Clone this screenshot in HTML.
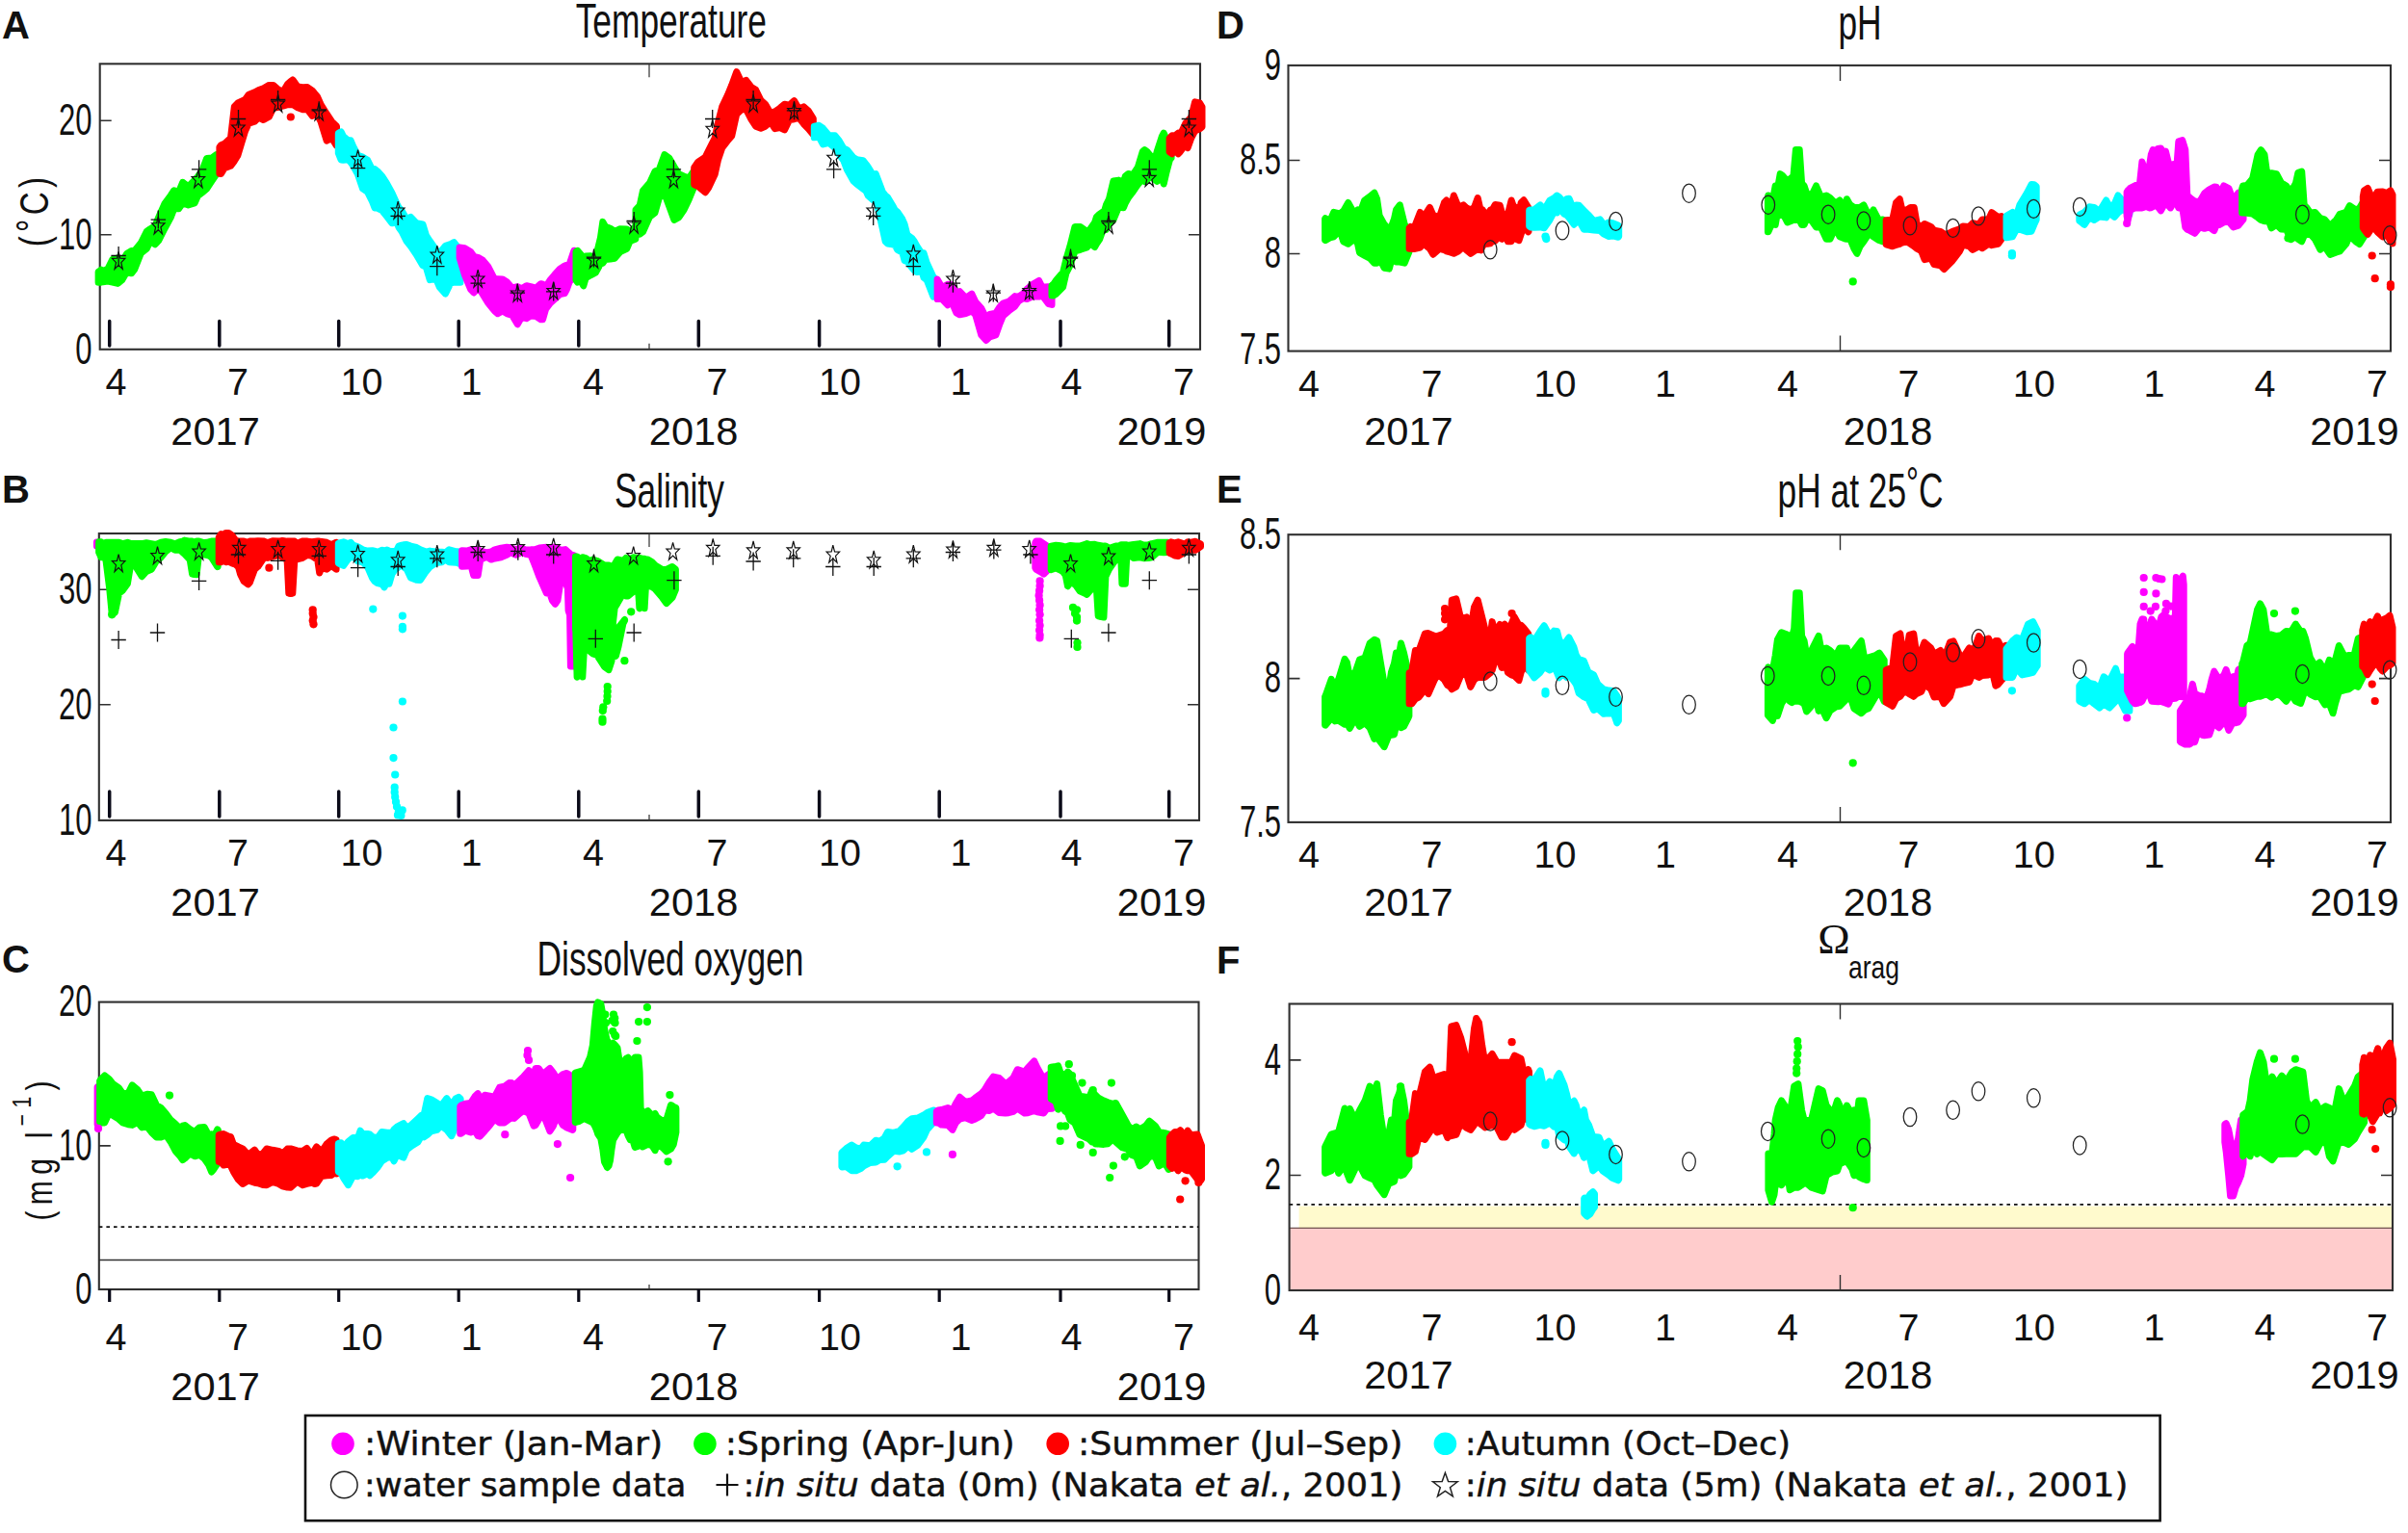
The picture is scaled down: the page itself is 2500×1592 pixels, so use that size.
<!DOCTYPE html>
<html lang="en"><head><meta charset="utf-8"><title>Seasonal time series of temperature, salinity, dissolved oxygen, pH and aragonite saturation</title>
<style>html,body{margin:0;padding:0;background:#fff}svg{display:block}text{font-family:"Liberation Sans",sans-serif;fill:#111111}.lg text{font-family:"DejaVu Sans","Liberation Sans",sans-serif;stroke:#111;stroke-width:.45px}.se{font-family:"Liberation Serif",serif}</style></head><body>
<svg width="2500" height="1592" viewBox="0 0 2500 1592">
<rect width="2500" height="1592" fill="#fff"/>
<g id="panelA">
<rect x="103.7" y="66.3" width="1142.3" height="296.5" fill="none" stroke="#303030" stroke-width="2.1"/>
<path d="M103.7 125.2h12M1246 125.2h-12M103.7 243.8h12M1246 243.8h-12" stroke="#303030" stroke-width="1.6" fill="none"/>
<path d="M113.7 333.4V358.9M227.8 333.4V358.9M351.7 333.4V358.9M476.2 333.4V358.9M600.8 333.4V358.9M725.3 333.4V358.9M850.6 333.4V358.9M975.2 333.4V358.9M1101 333.4V358.9M1213.7 333.4V358.9" stroke="#0a0a18" stroke-width="3.5" stroke-linecap="round" fill="none"/>
<path d="M674 66.3v14M674 362.8v-6" stroke="#303030" stroke-width="1.2" fill="none"/>
<path d="M102.1 282.4L105 280.2L107 281.6L111.9 279.2L116.8 269.4L122.4 267.8L126.6 272L131.6 263.5L136.5 260.5L139.8 260.3L146.3 252.3L152.3 240.4L156.1 237.6L161.1 234.5L164.8 225.4L170.9 211.6L177.2 203L180.7 197.7L185.6 199.4L189.7 189.3L195.5 193.7L202.1 186.8L205.3 183.6L210.2 176.5L214.6 164.4L220 164L224.6 160.6L225 160.6L225 180.8L224.6 181L220 187.9L214.6 196L210.2 199.7L205.3 203.5L202.1 210.9L195.5 212.9L189.7 210.9L185.6 216.8L180.7 216.7L177.2 225.9L170.9 237.5L164.8 249.6L161.1 253.8L156.1 250.4L152.3 258.3L146.3 262.9L139.8 279.5L136.5 283.8L131.6 282.4L126.6 290.9L122.4 294.4L116.8 293L111.9 292.1L107 292.7L105 293.2L102.1 293.2Z" fill="#00ff00" stroke="#00ff00" stroke-width="7" stroke-linejoin="round"/>
<path d="M227.9 152.8L229.5 150.7L233 149.2L239.5 143.2L243.3 110.8L247 107L254.5 103.3L258.3 98.2L264.4 95.8L268.5 93.6L273.5 91.8L279.4 88.4L283.7 88.4L289.4 93.3L293.8 95.3L298.9 86.9L301.8 84.6L303.9 82.9L309 90L314.3 90.8L319.1 90.5L324.2 94.1L326.7 97.1L329.3 100L333 108.3L339.2 118.3L344.5 126.3L349.2 130.7L349.5 131.5L349.5 151.3L349.2 151.1L344.5 143.5L339.2 146.1L333 126.2L329.3 118.7L326.7 118.7L324.2 120.4L319.1 113.6L314.3 113.7L309 111.7L303.9 108.5L301.8 108.8L298.9 108.7L293.8 110L289.4 111.3L283.7 112.2L279.4 121.2L273.5 124.5L268.5 122.1L264.4 126.2L258.3 128.1L254.5 136.2L247 161.1L243.3 167.3L239.5 172.3L233 174.6L229.5 180.5L227.9 180.2Z" fill="#ff0000" stroke="#ff0000" stroke-width="7" stroke-linejoin="round"/>
<path d="M351.3 138.4L354.1 136.9L356.3 141.4L361.4 145.9L364.1 145.7L366.5 151.6L371.5 161.4L376.6 163.1L381.6 166.2L386.7 176.6L389 175.6L391.8 177.7L396.8 183.1L401.5 190.5L407 200.5L412 211.5L413.9 215.4L417.1 218.7L422.2 227.7L426.4 225.4L432.3 231.7L438.9 232.9L442.4 244.3L446.3 250.3L452.6 259.2L456.3 262.8L462.5 255.3L467.8 253.5L471.3 251.6L477.9 260.1L477.9 293.2L471.3 293.2L467.8 294.1L462.5 305.1L456.3 298.1L452.6 289.3L446.3 290.7L442.4 277.4L438.9 275.7L432.3 264.4L426.4 255.8L422.2 250.6L417.1 240.5L413.9 235.9L412 230.8L407 231.8L401.5 224.6L396.8 218.7L391.8 216.1L389 215.9L386.7 209.7L381.6 199.5L376.6 196L371.5 181L366.5 172.1L364.1 168.6L361.4 165.8L356.3 166.3L354.1 166.1L351.3 158.9Z" fill="#00ffff" stroke="#00ffff" stroke-width="7" stroke-linejoin="round"/>
<path d="M477.1 256.9L482.5 257.8L488.7 261.5L492 266.3L497 267.6L501.2 270.3L506.9 277.1L513.6 290.2L516.8 289.7L521.8 289.9L526.1 292.7L531.7 299L537.3 297.7L541.6 299.8L546.6 296.7L551 297.7L556.5 299.2L561.5 294.7L563.5 295.2L566.5 298.2L571.4 290.5L575.9 285.2L581.4 279.1L586.3 276L588.4 275.2L591.3 274.1L595.9 260.3L596.2 260.3L596.2 287.8L595.9 288.2L591.3 292.4L588.4 300.6L586.3 304.5L581.4 305.6L575.9 310.6L571.4 314.7L566.5 321.2L563.5 331.8L561.5 331.8L556.5 328.5L551 328.1L546.6 330.7L541.6 329.2L537.3 336.8L531.7 327.5L526.1 325.6L521.8 323L516.8 325.8L513.6 323.1L506.9 314.8L501.2 305.6L497 298.5L492 304L488.7 300.6L482.5 285.7L477.1 267.8Z" fill="#ff00ff" stroke="#ff00ff" stroke-width="7" stroke-linejoin="round"/>
<path d="M598 261.4L599.6 260.3L603 264.3L605.8 267.8L608.1 266.1L613.2 265.8L618.3 267.8L623.4 247.2L625.8 230.4L628.5 235.2L633.6 237.2L638.2 240.4L643.8 237.7L650.7 237.9L654 240.9L659.9 235.4L660 217.9L664.2 213.4L667.5 198L674.4 190.1L679.9 178.1L684.5 175.7L689.9 160.6L694.7 164L699.9 173.1L704.9 180.8L709.8 183L715.1 185.1L719.8 178.1L720.2 177.7L720.2 195.6L719.8 196L715.1 207.5L709.8 218.4L704.9 225.6L699.9 228.4L694.7 214L689.9 201L684.5 205.1L679.9 220.9L674.4 225.3L667.5 240.8L664.2 243.3L660 243.3L659.9 248.3L654 250.6L650.7 258.3L643.8 261.7L638.2 268.2L633.6 269L628.5 269.4L625.8 273.2L623.4 274.1L618.3 283.2L613.2 285.8L608.1 288.8L605.8 296.9L603 291.6L599.6 293.2L598 291Z" fill="#00ff00" stroke="#00ff00" stroke-width="7" stroke-linejoin="round"/>
<path d="M720.7 173.9L724.8 168.1L732.3 163.1L735.5 156.5L742.2 143.2L745.4 127.7L749.7 110.8L755.3 99L759.7 88.4L764.7 74.6L770.1 85.9L774.6 83.4L780 90.4L784.6 93.3L789.9 104L794.6 108.3L799.8 117.3L804.5 115.8L809.7 112.3L814.5 108.3L819.6 109.1L824.5 104.6L829.5 113.2L834.4 110.8L839.3 115.2L844.3 123.1L844.3 139.8L839.3 133.7L834.4 128.7L829.5 122.3L824.5 123.7L819.6 124.5L814.5 134.9L809.7 132.6L804.5 133.7L799.8 126.4L794.6 131.2L789.9 133.2L784.6 131.2L780 124.1L774.6 113.7L770.1 113.5L764.7 118.7L759.7 141.2L755.3 146.3L749.7 153.6L745.4 166.4L742.2 181L735.5 195.3L732.3 199.7L724.8 193.5L720.7 191.8Z" fill="#ff0000" stroke="#ff0000" stroke-width="7" stroke-linejoin="round"/>
<path d="M845.3 131.2L850.3 130.3L854.4 133.2L860.5 140.4L866.8 140.7L870.7 145.4L875.8 154L879.3 155.6L885.9 163.6L889.3 165.6L896.1 166.7L899.2 170.6L901.2 173.3L906.3 181.5L909.2 180.6L911.4 186.3L916.4 199.4L919.2 203L921.5 204.7L926.6 213.2L929.1 217.9L931.7 219.9L936.8 227.5L939.1 232.9L941.9 243.9L947 247.6L949.1 250.3L952 255.7L957.1 263.5L959 262.8L962.2 273.1L969 287.7L972.4 290.8L972.4 307.3L969 308.1L962.2 290.8L959 288.2L957.1 281.5L952 282.6L949.1 280.7L947 278.3L941.9 271.6L939.1 270.7L936.8 262.2L931.7 259.5L929.1 254.5L926.6 253.9L921.5 253L919.2 250.8L916.4 237.9L911.4 215.7L909.2 208.4L906.3 207.7L901.2 203.1L899.2 198.5L896.1 196.2L889.3 191L885.9 187.9L879.3 176L875.8 166.8L870.7 159.8L866.8 153.6L860.5 148.3L854.4 149.9L850.3 142.3L845.3 142.8Z" fill="#00ffff" stroke="#00ffff" stroke-width="7" stroke-linejoin="round"/>
<path d="M973.1 290L978 298.5L983.9 295.2L988 295.7L992.9 304.6L996.4 302.7L1002.8 309.4L1008.9 305.1L1012.7 313.3L1018.8 320.1L1023.8 330.1L1027.6 326.5L1033.8 325.1L1037.5 319.3L1041.3 315.1L1047.4 313.1L1053.7 307.6L1057.3 308.1L1062.3 304.8L1066.2 300.2L1072.2 295.2L1078.6 291.4L1082.1 298.3L1088.6 297.7L1092 302.3L1092 316.4L1088.6 315.6L1082.1 307L1078.6 308.1L1072.2 307.9L1066.2 310.6L1062.3 309.7L1057.3 312.9L1053.7 318.1L1047.4 322.8L1041.3 328.1L1037.5 337.5L1033.8 348L1027.6 350L1023.8 353.5L1018.8 348L1012.7 326.9L1008.9 323.1L1002.8 325.5L996.4 326.8L992.9 324.9L988 313.4L983.9 316.8L978 310.5L973.1 310.6Z" fill="#ff00ff" stroke="#ff00ff" stroke-width="7" stroke-linejoin="round"/>
<path d="M1092 296.3L1093.6 295.2L1096.9 290.5L1103.6 282.7L1106.8 269.5L1111 255.3L1116 235.4L1121.7 235.5L1128.5 240.4L1131.7 238.1L1136.6 231L1138.4 225.4L1141.6 222.4L1146.6 218.9L1148.4 212.9L1151.5 206.6L1155.9 188L1161.5 187.1L1166.4 189.2L1168.3 183L1171.4 180.5L1176.4 181.6L1178.3 178.1L1181.3 173.7L1186.3 157.4L1188.3 155.6L1191.3 157.9L1196.2 163.8L1198.3 168.1L1201.2 157.4L1206.2 142L1208.2 138.2L1211.1 144.4L1214.4 143.2L1216.1 145.4L1216.1 163.9L1214.4 166.1L1211.1 178.5L1208.2 191L1206.2 184.1L1201.2 188.4L1198.3 186L1196.2 182.8L1191.3 186L1188.3 188.5L1186.3 185.6L1181.3 191.8L1178.3 196L1176.4 198.9L1171.4 205.5L1168.3 210.9L1166.4 215.7L1161.5 215L1155.9 228.4L1151.5 232.8L1148.4 238.3L1146.6 234.6L1141.6 248.6L1138.4 253.3L1136.6 256.5L1131.7 252.6L1128.5 257L1121.7 259.3L1116 260.8L1111 275.7L1106.8 283.9L1103.6 298.1L1096.9 304.9L1093.6 306.9L1092 306.9Z" fill="#00ff00" stroke="#00ff00" stroke-width="7" stroke-linejoin="round"/>
<path d="M1214.1 143.6L1216.9 140.7L1219.7 141L1223.2 138.2L1225.4 139.8L1231 127.7L1233.1 125.7L1236.7 121.7L1240.6 105.8L1245.6 107L1248 111L1248 131.7L1245.6 133.7L1240.6 136.2L1236.7 143.5L1233.1 153.6L1231 150L1225.4 157.5L1223.2 159.8L1219.7 154L1216.9 159.8L1214.1 157.7Z" fill="#ff0000" stroke="#ff0000" stroke-width="7" stroke-linejoin="round"/>
<g fill="#ff0000"><circle cx="301.8" cy="121.5" r="4.1"/></g>
<path fill="none" stroke="#111" stroke-width="1.3" d="M115.4 265.5h15.4M123.1 256v19M156.6 228.1h15.4M164.3 218.6v19M198.9 175.8h15.4M206.6 166.3v19M239.8 123.5h15.4M247.5 114v19M280.9 103.5h15.4M288.6 94v19M323.5 114.8h15.4M331.2 105.3v19M363.9 174.6h15.4M371.6 165.1v19M405.5 224.4h15.4M413.2 214.9v19M446.1 276.7h15.4M453.8 267.2v19M488.5 294.2h15.4M496.2 284.7v19M529.6 304.1h15.4M537.3 294.6v19M567 302.9h15.4M574.7 293.4v19M608.8 268h15.4M616.5 258.5v19M650.5 229.4h15.4M658.2 219.9v19M691.7 175.8h15.4M699.4 166.3v19M732 123.5h15.4M739.7 114v19M774.4 103.5h15.4M782.1 94v19M816.8 114.8h15.4M824.5 105.3v19M857.9 175.8h15.4M865.6 166.3v19M899 224.4h15.4M906.7 214.9v19M940.6 276.7h15.4M948.3 267.2v19M981.7 294.2h15.4M989.4 284.7v19M1023.6 304.1h15.4M1031.3 294.6v19M1061 301.6h15.4M1068.7 292.1v19M1103.8 268h15.4M1111.5 258.5v19M1143.2 229.4h15.4M1150.9 219.9v19M1185.6 175.8h15.4M1193.3 166.3v19M1226.7 123.5h15.4M1234.4 114v19"/>
<path fill="none" stroke="#111" stroke-width="1.2" stroke-linejoin="miter" d="M123.1 261.5L124.8 268.2L129.9 268.3L125.8 272.6L127.3 279.4L123.1 275.3L119 279.4L120.5 272.6L116.4 268.3L121.5 268.2ZM164.3 224.8L165.9 231.6L171 231.7L166.9 236L168.4 242.8L164.3 238.7L160.1 242.8L161.6 236L157.5 231.7L162.6 231.6ZM205.9 176.7L207.5 183.5L212.6 183.6L208.5 187.9L210 194.7L205.9 190.6L201.7 194.7L203.2 187.9L199.1 183.6L204.2 183.5ZM247.5 123.2L249.1 129.9L254.2 130L250.2 134.3L251.7 141.1L247.5 137L243.3 141.1L244.8 134.3L240.7 130L245.8 129.9ZM288.6 98.2L290.3 105L295.4 105.1L291.3 109.4L292.8 116.2L288.6 112.1L284.4 116.2L285.9 109.4L281.9 105.1L287 105ZM331.2 107L332.9 113.7L338 113.8L333.9 118.1L335.4 124.9L331.2 120.8L327 124.9L328.6 118.1L324.5 113.8L329.6 113.7ZM371.6 155.6L373.2 162.3L378.3 162.4L374.2 166.7L375.8 173.5L371.6 169.4L367.4 173.5L368.9 166.7L364.8 162.4L369.9 162.3ZM413.2 209.1L414.8 215.9L420 216L415.9 220.3L417.4 227.1L413.2 223L409 227.1L410.5 220.3L406.4 216L411.6 215.9ZM453.8 255.2L455.5 262L460.6 262.1L456.5 266.4L458 273.2L453.8 269.1L449.6 273.2L451.2 266.4L447.1 262.1L452.2 262ZM496.2 280.2L497.8 286.9L502.9 287L498.8 291.3L500.4 298.1L496.2 294L492 298.1L493.5 291.3L489.4 287L494.5 286.9ZM537.3 295.1L538.9 301.9L544 302L540 306.3L541.5 313.1L537.3 309L533.1 313.1L534.6 306.3L530.5 302L535.7 301.9ZM574.7 292.6L576.3 299.4L581.4 299.5L577.3 303.8L578.8 310.6L574.7 306.5L570.5 310.6L572 303.8L567.9 299.5L573 299.4ZM616.5 260.2L618.2 267L623.3 267.1L619.2 271.4L620.7 278.2L616.5 274.1L612.4 278.2L613.9 271.4L609.8 267.1L614.9 267ZM658.2 224.1L659.8 230.9L664.9 231L660.8 235.2L662.3 242.1L658.2 237.9L654 242.1L655.5 235.2L651.4 231L656.5 230.9ZM699.4 176.7L701 183.5L706.1 183.6L702 187.9L703.5 194.7L699.4 190.6L695.2 194.7L696.7 187.9L692.6 183.6L697.7 183.5ZM739.7 124.4L741.4 131.2L746.5 131.3L742.4 135.6L743.9 142.4L739.7 138.3L735.6 142.4L737.1 135.6L733 131.3L738.1 131.2ZM782.1 98.2L783.7 105L788.9 105.1L784.8 109.4L786.3 116.2L782.1 112.1L777.9 116.2L779.4 109.4L775.4 105.1L780.5 105ZM824.5 105.7L826.1 112.5L831.2 112.6L827.1 116.9L828.6 123.7L824.5 119.6L820.3 123.7L821.8 116.9L817.7 112.6L822.8 112.5ZM865.6 154.3L867.2 161.1L872.3 161.2L868.2 165.5L869.8 172.3L865.6 168.2L861.4 172.3L862.9 165.5L858.8 161.2L863.9 161.1ZM906.7 209.1L908.3 215.9L913.5 216L909.4 220.3L910.9 227.1L906.7 223L902.5 227.1L904 220.3L899.9 216L905.1 215.9ZM948.3 254L950 260.8L955.1 260.9L951 265.1L952.5 272L948.3 267.8L944.1 272L945.7 265.1L941.6 260.9L946.7 260.8ZM989.4 280.2L991.1 286.9L996.2 287L992.1 291.3L993.6 298.1L989.4 294L985.3 298.1L986.8 291.3L982.7 287L987.8 286.9ZM1031.3 295.1L1032.9 301.9L1038 302L1034 306.3L1035.5 313.1L1031.3 309L1027.1 313.1L1028.6 306.3L1024.5 302L1029.6 301.9ZM1068.7 292.6L1070.3 299.4L1075.4 299.5L1071.3 303.8L1072.8 310.6L1068.7 306.5L1064.5 310.6L1066 303.8L1061.9 299.5L1067 299.4ZM1111.5 260.2L1113.2 267L1118.3 267.1L1114.2 271.4L1115.7 278.2L1111.5 274.1L1107.4 278.2L1108.9 271.4L1104.8 267.1L1109.9 267ZM1150.9 224.1L1152.6 230.9L1157.7 231L1153.6 235.2L1155.1 242.1L1150.9 237.9L1146.7 242.1L1148.2 235.2L1144.2 231L1149.3 230.9ZM1193.3 175.5L1194.9 182.3L1200 182.4L1195.9 186.6L1197.4 193.5L1193.3 189.4L1189.1 193.5L1190.6 186.6L1186.5 182.4L1191.6 182.3ZM1234.4 123.2L1236 129.9L1241.1 130L1237 134.3L1238.6 141.1L1234.4 137L1230.2 141.1L1231.7 134.3L1227.6 130L1232.7 129.9Z"/>
<text transform="translate(95.5,139.9) scale(0.66,1)" text-anchor="end" font-size="47">20</text>
<text transform="translate(95.5,258.5) scale(0.66,1)" text-anchor="end" font-size="47">10</text>
<text transform="translate(95.5,377.5) scale(0.66,1)" text-anchor="end" font-size="47">0</text>
<text transform="translate(49.5,218) rotate(-90) scale(0.78,1)" text-anchor="middle" font-size="42.5" letter-spacing="5.5">(<tspan dy="-3">°</tspan><tspan dy="3">C)</tspan></text>
<text x="120.4" y="410.3" text-anchor="middle" font-size="39.5">4</text>
<text x="247" y="410.3" text-anchor="middle" font-size="39.5">7</text>
<text x="375.5" y="410.3" text-anchor="middle" font-size="39.5">10</text>
<text x="489.5" y="410.3" text-anchor="middle" font-size="39.5">1</text>
<text x="616" y="410.3" text-anchor="middle" font-size="39.5">4</text>
<text x="744.5" y="410.3" text-anchor="middle" font-size="39.5">7</text>
<text x="872" y="410.3" text-anchor="middle" font-size="39.5">10</text>
<text x="997.6" y="410.3" text-anchor="middle" font-size="39.5">1</text>
<text x="1112.5" y="410.3" text-anchor="middle" font-size="39.5">4</text>
<text x="1229" y="410.3" text-anchor="middle" font-size="39.5">7</text>
<text x="177.3" y="461.8" font-size="40" textLength="92.5" lengthAdjust="spacingAndGlyphs">2017</text>
<text x="673.8" y="461.8" font-size="40" textLength="92.5" lengthAdjust="spacingAndGlyphs">2018</text>
<text x="1159.8" y="461.8" font-size="40" textLength="92.5" lengthAdjust="spacingAndGlyphs">2019</text>
<text transform="translate(696.8,39) scale(0.701,1)" text-anchor="middle" font-size="50.4">Temperature</text>
<text x="2" y="40.3" font-size="40" font-weight="bold">A</text>
</g>
<g id="panelB">
<rect x="102.8" y="554" width="1142.2" height="297.9" fill="none" stroke="#303030" stroke-width="2.1"/>
<path d="M102.8 612.2h12M1245 612.2h-12M102.8 731.8h12M1245 731.8h-12" stroke="#303030" stroke-width="1.6" fill="none"/>
<path d="M113.7 821.9V848M227.8 821.9V848M351.7 821.9V848M476.2 821.9V848M600.8 821.9V848M725.3 821.9V848M850.6 821.9V848M975.2 821.9V848M1101 821.9V848M1213.7 821.9V848" stroke="#0a0a18" stroke-width="3.5" stroke-linecap="round" fill="none"/>
<path d="M674 554v14M674 851.9v-6" stroke="#303030" stroke-width="1.2" fill="none"/>
<path d="M100.4 563.1L100.4 566.9Z" fill="#ff00ff" stroke="#ff00ff" stroke-width="7" stroke-linejoin="round"/>
<path d="M102.6 562.7L105 562.8L107.5 564.6L109.9 563.3L113.7 563.3L116.2 563.3L119.4 563.3L123.6 563.3L127.3 564.6L132.4 563.3L136.1 564.6L141.1 564.6L147.3 564.6L152 563.7L157.3 564.6L161.9 565.5L167.2 563.3L171.8 562.5L177.2 563.3L181.7 564.9L186.6 562.6L189.7 562.1L191.6 561.1L197.2 562.1L199.6 562.1L201.5 563L204.1 562.1L206.6 562.1L211.4 563.6L216.3 563L219.6 562.1L225.8 562.1L226.2 562.1L226.2 588.5L225.8 588.7L219.6 578.8L216.3 576.8L211.4 575.8L206.6 575L204.1 596.7L201.5 596.6L199.6 596.2L197.2 581.3L191.6 575.4L189.7 573.8L186.6 570.9L181.7 571.3L177.2 568.8L171.8 573.1L167.2 578.8L161.9 583.4L157.3 591.2L152 593.4L147.3 598.7L141.1 588.7L136.1 583.7L132.4 606.2L127.3 613.3L123.6 616.1L119.4 636.1L116.2 637.3L113.7 611.2L109.9 581.3L107.5 578.4L105 578.8L102.6 573.5Z" fill="#00ff00" stroke="#00ff00" stroke-width="7" stroke-linejoin="round"/>
<path d="M227.2 557.9L229.5 554.6L232.2 555.1L234.5 553.4L237.3 553.5L240.8 555.9L244.5 560.8L247.5 562.2L249.5 562.1L253.2 562.1L257.6 563.4L259.4 562.1L264.4 562.1L267.8 561.8L274.4 562.1L277.9 563.6L283 561.8L289.4 562.1L293.2 561.4L298.1 562.1L299.8 562.1L303.8 562.1L305.8 562.1L308.4 564.5L313.5 562.1L319.3 562.1L323.7 562.7L329.7 562.1L331.7 562.1L333.8 562.4L339.2 563.3L344 565.6L349.1 563.3L349.1 591.2L344 587.5L339.2 591.2L333.8 589.8L331.7 595L329.7 581.3L323.7 577.3L319.3 576.3L313.5 579.6L308.4 580.8L305.8 581.3L303.8 616.1L299.8 616.1L298.1 581.3L293.2 579L289.4 576.3L283 578.1L277.9 579.4L274.4 578.8L267.8 588.4L264.4 591.2L259.4 604.9L257.6 606.8L253.2 603.7L249.5 596.2L247.5 588.9L244.5 586.2L240.8 585L237.3 583.2L234.5 583.7L232.2 579.8L229.5 583.7L227.2 583.7Z" fill="#ff0000" stroke="#ff0000" stroke-width="7" stroke-linejoin="round"/>
<path d="M351.3 564.1L356.6 562.8L361.4 564.7L364.1 563.3L366.5 566.1L371.5 567.8L376.6 570.8L381.6 572.1L386.7 571.8L389 572.1L391.8 573.5L396.8 571.2L399 572.1L401.9 571L404 572.1L407 572.5L410.2 572.1L412 571.4L413.9 567.1L417.1 566.2L418.9 565.8L422.2 565.4L426.4 567.1L432.3 568.4L436.4 570.8L442.4 573.1L446.3 572.1L452.6 572.9L458.8 573.3L462.7 573.7L466.3 570.8L473.8 572.8L477.9 573.1L477.9 585.6L473.8 584.2L466.3 583.7L462.7 580.9L458.8 583.7L452.6 584.6L446.3 588.7L442.4 593.4L436.4 602.4L432.3 602.2L426.4 599.9L422.2 591.1L418.9 588.7L417.1 585.7L413.9 588.7L412 590.3L410.2 591.2L407 596L404 606.2L401.9 604.2L399 609.9L396.8 606.8L391.8 605.7L389 603.7L386.7 600.5L381.6 588.8L376.6 583.7L371.5 582.8L366.5 577.7L364.1 578.8L361.4 580.8L356.6 587.5L351.3 584.8Z" fill="#00ffff" stroke="#00ffff" stroke-width="7" stroke-linejoin="round"/>
<path d="M479.6 571.8L484.7 572.1L488.7 570.8L491.7 570.8L496.2 570.8L498.7 572.1L505 573.9L510 572.9L513.6 570.8L520.2 569.1L526.1 568.3L530.3 568.7L535.4 571L538.5 569.6L540.5 568.8L545.5 571L551 570.8L555.7 570.5L560 569.1L567.4 568.3L570.9 570.1L573.4 568.3L576.4 568.3L578.9 569.6L582.4 571.3L586.9 570.6L589.4 572.8L590.1 573.6L591.6 574.6L592.4 575.8L596.2 576.9L596.2 691.9L592.4 691.9L591.6 638.6L590.1 634.1L589.4 611.2L586.9 603.9L582.4 600.9L578.9 623.6L576.4 627.4L573.4 623.6L570.9 616.2L567.4 616.1L560 599.4L555.7 587.9L551 576.3L545.5 575.3L540.5 572.4L538.5 575L535.4 576.2L530.3 573.7L526.1 576.3L520.2 578.8L513.6 580L510 581.1L505 578.3L498.7 581.3L496.2 597.5L491.7 597.5L488.7 586.2L484.7 588L479.6 588.3Z" fill="#ff00ff" stroke="#ff00ff" stroke-width="7" stroke-linejoin="round"/>
<path d="M597.5 578L597.8 578L599.1 578L602.4 580.8L604.8 578.8L606.3 579L608.1 579.5L612.3 582.7L615.5 581L620 582.5L622.2 583.6L627.5 587L632 587L635 588.5L636.5 592L638.2 585.8L641 581L647 582.5L649.9 579.5L651.9 581.6L657.4 578.8L662.6 579.5L663.9 579.5L666.8 580.2L669.1 580.3L670.4 580.8L672.6 581L676.7 583.4L680.1 587L687.6 591.5L692 591.5L698 588.5L701.4 591.2L701.4 612.5L698 620.6L692 626.6L687.6 620.6L680.1 611.7L676.7 609.4L672.6 608.4L670.4 609.2L669.1 631.8L666.8 627.3L663.9 631.8L662.6 612.2L657.4 614.6L651.9 619L649.9 619.1L647 616.3L641 626.6L638.2 631.1L636.5 646L635 686.4L632 695.6L627.5 692.4L622.2 684.2L620 680.4L615.5 678.9L612.3 676.2L608.1 671.5L606.3 675.9L604.8 703.1L602.4 700.1L599.1 703.1L597.8 656L597.5 653.7Z" fill="#00ff00" stroke="#00ff00" stroke-width="7" stroke-linejoin="round"/>
<path d="M639.3 653.7L639.5 653L642 651.6L646.9 645.6L648.6 643.4L648.6 644.4L646.9 647.5L642 671.5L639.5 680.9L639.3 681.3Z" fill="#00ff00" stroke="#00ff00" stroke-width="7" stroke-linejoin="round"/>
<path d="M1074.8 563.6L1075.6 562.1L1079.9 562.1L1083.6 564.6L1087.4 567.1L1088.3 567.8L1088.3 591.7L1087.4 592.5L1083.6 596.2L1079.9 593.7L1075.6 591.2L1074.8 589.7Z" fill="#ff00ff" stroke="#ff00ff" stroke-width="7" stroke-linejoin="round"/>
<path d="M1091.2 567.1L1096.3 566.2L1101.3 566.8L1103.6 567.1L1106.3 568.3L1108.5 567.1L1111.4 566.5L1116.4 566.9L1121 567.1L1126.5 565.4L1128.5 564.6L1131.6 565.6L1136.6 565.3L1138.4 565.8L1140.2 566.3L1145.9 567.1L1147.9 567.1L1151.8 569.3L1158.4 567.1L1161.9 567.1L1163.9 565.8L1164.9 565.8L1168.3 565.8L1169.8 565.8L1172 566.3L1177 565.4L1183.3 564.6L1187.1 566.1L1192.2 565.9L1195.8 564.6L1202.3 563.3L1208.2 563.3L1212.3 563.3L1212.3 573.5L1208.2 573.8L1202.3 573.2L1195.8 578.8L1192.2 579.6L1187.1 579.7L1183.3 578.8L1177 579.5L1172 576.3L1169.8 577.5L1168.3 606.2L1164.9 606.2L1163.9 581.3L1161.9 578.4L1158.4 581.3L1151.8 590.6L1147.9 598.7L1145.9 641.1L1140.2 639.8L1138.4 611.2L1136.6 607.9L1131.6 613.6L1128.5 617.4L1126.5 616.2L1121 613.7L1116.4 607.3L1111.4 604.3L1108.5 608.7L1106.3 597.6L1103.6 593.7L1101.3 592.2L1096.3 590L1091.2 591.6Z" fill="#00ff00" stroke="#00ff00" stroke-width="7" stroke-linejoin="round"/>
<path d="M1214.1 563.6L1215.7 562.8L1219.5 563.9L1223.2 562.8L1230.3 565L1233.1 562.8L1235.7 563.5L1241.1 562.2L1243.1 563.3L1246.5 564.9L1246.5 567.7L1243.1 570L1241.1 571.2L1235.7 571.1L1233.1 571.3L1230.3 573.2L1223.2 577.5L1219.5 577L1215.7 575L1214.1 574.3Z" fill="#ff0000" stroke="#ff0000" stroke-width="7" stroke-linejoin="round"/>
<g fill="#ff0000"><circle cx="279.4" cy="589.7" r="4.1"/><circle cx="324.7" cy="633.3" r="4.1"/><circle cx="324.7" cy="637.1" r="4.1"/><circle cx="325.5" cy="640.8" r="4.1"/><circle cx="324.7" cy="644.6" r="4.1"/><circle cx="325.5" cy="648.3" r="4.1"/><circle cx="301.8" cy="615.9" r="4.1"/><circle cx="301.3" cy="612.2" r="4.1"/></g>
<g fill="#00ffff"><circle cx="387.3" cy="632.6" r="4.1"/><circle cx="417.9" cy="639.6" r="4.1"/><circle cx="417.9" cy="653.3" r="4.1"/><circle cx="417.9" cy="650.8" r="4.1"/><circle cx="417.9" cy="728.5" r="4.1"/><circle cx="408.5" cy="755.5" r="4.1"/><circle cx="408.5" cy="787.1" r="4.1"/><circle cx="410.2" cy="804.5" r="4.1"/><circle cx="409.7" cy="817.7" r="4.1"/><circle cx="409.7" cy="822.7" r="4.1"/><circle cx="410.2" cy="827.7" r="4.1"/><circle cx="411" cy="832.7" r="4.1"/><circle cx="412" cy="837.7" r="4.1"/><circle cx="413.9" cy="842.7" r="4.1"/><circle cx="415.9" cy="845.2" r="4.1"/><circle cx="417.7" cy="841.4" r="4.1"/><circle cx="416.4" cy="846.9" r="4.1"/><circle cx="413" cy="846.4" r="4.1"/></g>
<g fill="#00ff00"><circle cx="655.2" cy="635.3" r="4.1"/><circle cx="648.4" cy="686.2" r="4.1"/><circle cx="630.7" cy="713.1" r="4.1"/><circle cx="630.7" cy="718.1" r="4.1"/><circle cx="630.5" cy="723.1" r="4.1"/><circle cx="630.2" cy="728" r="4.1"/><circle cx="626.3" cy="734.3" r="4.1"/><circle cx="625.8" cy="738" r="4.1"/><circle cx="625.5" cy="746.7" r="4.1"/><circle cx="625.5" cy="749.7" r="4.1"/><circle cx="116.2" cy="638.3" r="4.1"/></g>
<g fill="#ff00ff"><circle cx="1079.6" cy="603.4" r="4.1"/><circle cx="1079.6" cy="608.4" r="4.1"/><circle cx="1079.1" cy="613.4" r="4.1"/><circle cx="1078.6" cy="618.4" r="4.1"/><circle cx="1079.1" cy="623.4" r="4.1"/><circle cx="1079.6" cy="628.4" r="4.1"/><circle cx="1079.1" cy="633.3" r="4.1"/><circle cx="1079.6" cy="638.3" r="4.1"/><circle cx="1079.1" cy="644.6" r="4.1"/><circle cx="1079.6" cy="649.5" r="4.1"/><circle cx="1079.1" cy="654.5" r="4.1"/><circle cx="1079.6" cy="659.5" r="4.1"/><circle cx="1079.4" cy="662.5" r="4.1"/></g>
<g fill="#00ff00"><circle cx="1114" cy="630.9" r="4.1"/><circle cx="1118" cy="633.3" r="4.1"/><circle cx="1116" cy="637.1" r="4.1"/><circle cx="1118" cy="640.8" r="4.1"/><circle cx="1118" cy="644.6" r="4.1"/><circle cx="1118.5" cy="667.5" r="4.1"/><circle cx="1118.5" cy="672" r="4.1"/><circle cx="1142.9" cy="639.6" r="4.1"/></g>
<path fill="none" stroke="#111" stroke-width="1.3" d="M115.4 664.5h15.4M123.1 655v19M155.8 657h15.4M163.5 647.5v19M198.9 603.4h15.4M206.6 593.9v19M239.8 576h15.4M247.5 566.5v19M280.9 582.3h15.4M288.6 572.8v19M323.5 577.3h15.4M331.2 567.8v19M363.9 589.7h15.4M371.6 580.2v19M405.5 588.5h15.4M413.2 579v19M446.1 579.8h15.4M453.8 570.3v19M488.5 573.5h15.4M496.2 564v19M530.1 572.3h15.4M537.8 562.8v19M567 576h15.4M574.7 566.5v19M610.6 663.3h15.4M618.3 653.8v19M650.5 657h15.4M658.2 647.5v19M692.2 602.7h15.4M699.9 593.2v19M732.5 577.3h15.4M740.2 567.8v19M774.4 583h15.4M782.1 573.5v19M816 579.8h15.4M823.7 570.3v19M857.1 588.5h15.4M864.8 579v19M899.5 588.5h15.4M907.2 579v19M940.6 579.8h15.4M948.3 570.3v19M981.7 573.5h15.4M989.4 564v19M1024.1 571.1h15.4M1031.8 561.6v19M1062.2 576h15.4M1069.9 566.5v19M1104.6 663.3h15.4M1112.3 653.8v19M1143.2 657h15.4M1150.9 647.5v19M1185.6 602.7h15.4M1193.3 593.2v19M1226.7 576h15.4M1234.4 566.5v19"/>
<path fill="none" stroke="#111" stroke-width="1.2" stroke-linejoin="miter" d="M123.1 575.7L124.8 582.5L129.9 582.6L125.8 586.9L127.3 593.7L123.1 589.6L119 593.7L120.5 586.9L116.4 582.6L121.5 582.5ZM163.5 567.7L165.2 574.5L170.3 574.6L166.2 578.9L167.7 585.7L163.5 581.6L159.3 585.7L160.8 578.9L156.8 574.6L161.9 574.5ZM206.6 563.3L208.3 570L213.4 570.1L209.3 574.4L210.8 581.2L206.6 577.1L202.4 581.2L204 574.4L199.9 570.1L205 570ZM248.2 559.5L249.9 566.3L255 566.4L250.9 570.7L252.4 577.5L248.2 573.4L244.1 577.5L245.6 570.7L241.5 566.4L246.6 566.3ZM288.6 560.8L290.3 567.5L295.4 567.6L291.3 571.9L292.8 578.7L288.6 574.6L284.4 578.7L285.9 571.9L281.9 567.6L287 567.5ZM331.2 560.8L332.9 567.5L338 567.6L333.9 571.9L335.4 578.7L331.2 574.6L327 578.7L328.6 571.9L324.5 567.6L329.6 567.5ZM371.6 565.7L373.2 572.5L378.3 572.6L374.2 576.9L375.8 583.7L371.6 579.6L367.4 583.7L368.9 576.9L364.8 572.6L369.9 572.5ZM413.2 572L414.8 578.7L420 578.8L415.9 583.1L417.4 590L413.2 585.8L409 590L410.5 583.1L406.4 578.8L411.6 578.7ZM453.8 566.2L455.5 573L460.6 573.1L456.5 577.4L458 584.2L453.8 580.1L449.6 584.2L451.2 577.4L447.1 573.1L452.2 573ZM496.2 560.8L497.8 567.5L502.9 567.6L498.8 571.9L500.4 578.7L496.2 574.6L492 578.7L493.5 571.9L489.4 567.6L494.5 567.5ZM537.8 558.8L539.4 565.5L544.5 565.6L540.5 569.9L542 576.8L537.8 572.6L533.6 576.8L535.1 569.9L531 565.6L536.1 565.5ZM574.7 558.8L576.3 565.5L581.4 565.6L577.3 569.9L578.8 576.8L574.7 572.6L570.5 576.8L572 569.9L567.9 565.6L573 565.5ZM616.5 575.7L618.2 582.5L623.3 582.6L619.2 586.9L620.7 593.7L616.5 589.6L612.4 593.7L613.9 586.9L609.8 582.6L614.9 582.5ZM657.7 567.7L659.3 574.5L664.4 574.6L660.3 578.9L661.8 585.7L657.7 581.6L653.5 585.7L655 578.9L650.9 574.6L656 574.5ZM698.6 563.3L700.3 570L705.4 570.1L701.3 574.4L702.8 581.2L698.6 577.1L694.5 581.2L696 574.4L691.9 570.1L697 570ZM740.2 559.5L741.9 566.3L747 566.4L742.9 570.7L744.4 577.5L740.2 573.4L736.1 577.5L737.6 570.7L733.5 566.4L738.6 566.3ZM782.1 562L783.7 568.8L788.9 568.9L784.8 573.2L786.3 580L782.1 575.9L777.9 580L779.4 573.2L775.4 568.9L780.5 568.8ZM823.7 562L825.4 568.8L830.5 568.9L826.4 573.2L827.9 580L823.7 575.9L819.5 580L821.1 573.2L817 568.9L822.1 568.8ZM864.8 566.2L866.5 573L871.6 573.1L867.5 577.4L869 584.2L864.8 580.1L860.7 584.2L862.2 577.4L858.1 573.1L863.2 573ZM907.2 572L908.8 578.7L913.9 578.8L909.9 583.1L911.4 590L907.2 585.8L903 590L904.5 583.1L900.4 578.8L905.6 578.7ZM948.3 566.2L950 573L955.1 573.1L951 577.4L952.5 584.2L948.3 580.1L944.1 584.2L945.7 577.4L941.6 573.1L946.7 573ZM989.4 561.3L991.1 568L996.2 568.1L992.1 572.4L993.6 579.2L989.4 575.1L985.3 579.2L986.8 572.4L982.7 568.1L987.8 568ZM1031.8 559.5L1033.4 566.3L1038.5 566.4L1034.5 570.7L1036 577.5L1031.8 573.4L1027.6 577.5L1029.1 570.7L1025 566.4L1030.1 566.3ZM1068.7 560.8L1070.3 567.5L1075.4 567.6L1071.3 571.9L1072.8 578.7L1068.7 574.6L1064.5 578.7L1066 571.9L1061.9 567.6L1067 567.5ZM1111.5 575.7L1113.2 582.5L1118.3 582.6L1114.2 586.9L1115.7 593.7L1111.5 589.6L1107.4 593.7L1108.9 586.9L1104.8 582.6L1109.9 582.5ZM1150.9 568.2L1152.6 575L1157.7 575.1L1153.6 579.4L1155.1 586.2L1150.9 582.1L1146.7 586.2L1148.2 579.4L1144.2 575.1L1149.3 575ZM1193.3 563.3L1194.9 570L1200 570.1L1195.9 574.4L1197.4 581.2L1193.3 577.1L1189.1 581.2L1190.6 574.4L1186.5 570.1L1191.6 570ZM1234.4 559.5L1236 566.3L1241.1 566.4L1237 570.7L1238.6 577.5L1234.4 573.4L1230.2 577.5L1231.7 570.7L1227.6 566.4L1232.7 566.3Z"/>
<text transform="translate(95.5,626.9) scale(0.66,1)" text-anchor="end" font-size="47">30</text>
<text transform="translate(95.5,746.5) scale(0.66,1)" text-anchor="end" font-size="47">20</text>
<text transform="translate(95.5,866.6) scale(0.66,1)" text-anchor="end" font-size="47">10</text>
<text x="120.4" y="899.4" text-anchor="middle" font-size="39.5">4</text>
<text x="247" y="899.4" text-anchor="middle" font-size="39.5">7</text>
<text x="375.5" y="899.4" text-anchor="middle" font-size="39.5">10</text>
<text x="489.5" y="899.4" text-anchor="middle" font-size="39.5">1</text>
<text x="616" y="899.4" text-anchor="middle" font-size="39.5">4</text>
<text x="744.5" y="899.4" text-anchor="middle" font-size="39.5">7</text>
<text x="872" y="899.4" text-anchor="middle" font-size="39.5">10</text>
<text x="997.6" y="899.4" text-anchor="middle" font-size="39.5">1</text>
<text x="1112.5" y="899.4" text-anchor="middle" font-size="39.5">4</text>
<text x="1229" y="899.4" text-anchor="middle" font-size="39.5">7</text>
<text x="177.3" y="950.9" font-size="40" textLength="92.5" lengthAdjust="spacingAndGlyphs">2017</text>
<text x="673.8" y="950.9" font-size="40" textLength="92.5" lengthAdjust="spacingAndGlyphs">2018</text>
<text x="1159.8" y="950.9" font-size="40" textLength="92.5" lengthAdjust="spacingAndGlyphs">2019</text>
<text transform="translate(695,527) scale(0.701,1)" text-anchor="middle" font-size="50.4">Salinity</text>
<text x="2" y="522" font-size="40" font-weight="bold">B</text>
</g>
<g id="panelC">
<rect x="102.8" y="1040.6" width="1141.7" height="298.4" fill="none" stroke="#303030" stroke-width="2.1"/>
<path d="M102.8 1189.9h12M1244.5 1189.9h-12" stroke="#303030" stroke-width="1.6" fill="none"/>
<path d="M113.7 1339v13M227.8 1339v13M351.7 1339v13M476.2 1339v13M600.8 1339v13M725.3 1339v13M850.6 1339v13M975.2 1339v13M1101 1339v13M1213.7 1339v13" stroke="#0a0a18" stroke-width="3.2" fill="none"/>
<path d="M674 1339v-5" stroke="#303030" stroke-width="1.2" fill="none"/>
<path d="M102.8 1274.1H1244.5" stroke="#111" stroke-width="1.6" stroke-dasharray="3.6 4" fill="none"/>
<path d="M102.8 1308.5H1244.5" stroke="#303030" stroke-width="1.6" fill="none"/>
<path d="M101.1 1128.8L101.9 1128.2L101.9 1168.4L101.1 1167.7Z" fill="#ff00ff" stroke="#ff00ff" stroke-width="7" stroke-linejoin="round"/>
<path d="M103.6 1122.6L105 1120.6L108.7 1116.9L113.4 1120.7L117.4 1125.6L123.2 1129.6L127.4 1135.6L133.1 1135.2L137.3 1126.8L142.9 1131.6L147.3 1138.1L152.7 1136.3L157.3 1136.8L162.5 1147.7L167.2 1150.5L172.4 1156.5L177.2 1163L182.2 1167.2L187.1 1171.8L189.7 1169.2L192 1168.5L197 1172.4L202.1 1175.4L206.8 1171L212.1 1170.5L216.6 1178.6L219.6 1177.9L221.5 1181.7L225.8 1172.9L226.4 1173.5L226.4 1207.7L225.8 1208.3L221.5 1214.7L219.6 1217L216.6 1209.7L212.1 1203.3L206.8 1199.3L202.1 1200.8L197 1198L192 1203L189.7 1204.6L187.1 1201L182.2 1195.4L177.2 1185.9L172.4 1179L167.2 1180.9L162.5 1181L157.3 1175.9L152.7 1170.1L147.3 1170.9L142.9 1165.5L137.3 1168.4L133.1 1167.7L127.4 1165.9L123.2 1162.1L117.4 1158.5L113.4 1155.6L108.7 1165.9L105 1165.9L103.6 1165Z" fill="#00ff00" stroke="#00ff00" stroke-width="7" stroke-linejoin="round"/>
<path d="M227.2 1178.6L229.5 1177.9L232.2 1177.5L237.3 1180.2L239.5 1180.4L242.4 1188.5L247.5 1191L252 1192.9L257.6 1199.2L264.4 1194.1L267.8 1199.2L272.9 1198L276.9 1192.9L283 1194.3L289.4 1195.4L293.2 1198.3L298.3 1193.1L301.8 1192.9L308.4 1194.9L314.3 1195.4L318.6 1192.5L323.7 1199.9L326.7 1194.1L328.7 1190.9L333.8 1195.9L339.2 1187.9L344 1184L346.7 1182.9L349.1 1183.6L349.1 1218.9L346.7 1218.3L344 1220.4L339.2 1220.8L333.8 1221.6L328.7 1229.1L326.7 1229.5L323.7 1228.3L318.6 1229.3L314.3 1230.7L308.4 1227.1L301.8 1233.2L298.3 1233.1L293.2 1231.9L289.4 1229.5L283 1227.4L276.9 1230.7L272.9 1230.5L267.8 1228.7L264.4 1228.2L257.6 1226L252 1229.5L247.5 1225.1L242.4 1216.8L239.5 1210.8L237.3 1208.8L232.2 1210.1L229.5 1207.1L227.2 1206.4Z" fill="#ff0000" stroke="#ff0000" stroke-width="7" stroke-linejoin="round"/>
<path d="M351.3 1187.4L354.1 1186.7L356.3 1191.7L361.6 1185.4L366.5 1181.6L371.6 1181.5L374.1 1174.2L376.6 1177.6L381.7 1177.5L384 1177.9L386.8 1180.6L391.9 1181.7L396.5 1175.4L402 1176.2L407.1 1176.2L409 1172.9L412.2 1170.2L418.9 1166.7L422.3 1171.1L427.4 1167.9L433.9 1161.7L437.5 1158.3L440.1 1158L443.8 1140.6L447.7 1141.8L453.8 1145.5L457.8 1148.6L463.8 1140.6L468.8 1148L473.1 1140.9L476.2 1139.3L478.1 1141.1L478.1 1170.9L476.2 1170.9L473.1 1169.7L468.8 1179.7L463.8 1173.4L457.8 1169L453.8 1173.4L447.7 1174.8L443.8 1178.4L440.1 1180.9L437.5 1179.8L433.9 1185.9L427.4 1189.9L422.3 1193.9L418.9 1202.1L412.2 1199.3L409 1205.8L407.1 1201.8L402 1202.2L396.5 1205.8L391.9 1212.4L386.8 1218.1L384 1220.8L381.7 1218.8L376.6 1221L374.1 1218.3L371.6 1221.7L366.5 1221.3L361.6 1230.7L356.3 1222.7L354.1 1218.3L351.3 1216.8Z" fill="#00ffff" stroke="#00ffff" stroke-width="7" stroke-linejoin="round"/>
<path d="M477.8 1148.8L478.7 1148L482.9 1146.2L488.7 1145.5L493.1 1138.6L496.2 1135.6L498.2 1142L503.3 1137.3L508.6 1138.1L513.4 1139.1L518.6 1129.3L523.6 1128.3L528.7 1124.6L531.1 1124.4L533.8 1127.1L538.8 1122.5L543.5 1118.1L549 1111.7L554.1 1116.5L556 1109.4L559.2 1109.4L563.5 1115.6L570.9 1109.4L574.4 1113.9L578.4 1120.6L584.6 1115.5L588.4 1114.4L594.6 1118.1L594.8 1118.2L594.8 1173.1L594.6 1173.4L588.4 1170.9L584.6 1168.6L578.4 1158.5L574.4 1169.3L570.9 1174.7L563.5 1156L559.2 1163L556 1168.4L554.1 1169.2L549 1156.1L543.5 1153.5L538.8 1156.8L533.8 1161.4L531.1 1161L528.7 1162.2L523.6 1165.9L518.6 1165.9L513.4 1162.1L508.6 1168.4L503.3 1174.6L498.2 1180.2L496.2 1179.7L493.1 1174.3L488.7 1175.9L482.9 1174.2L478.7 1177.2L477.8 1177.2Z" fill="#ff00ff" stroke="#ff00ff" stroke-width="7" stroke-linejoin="round"/>
<path d="M597.2 1114.1L600.8 1113.1L606.6 1111.4L612.6 1097.9L615.3 1085.7L617.3 1063.3L619.3 1044.6L620.8 1040.9L623.8 1042.4L625.8 1053.3L627.5 1068.3L629.7 1078.3L630.5 1083.2L632 1085.7L633.5 1088.2L635 1085.7L636.5 1083.2L639 1085.7L641 1088.2L642.5 1098.2L643.9 1117.4L646.9 1103.2L649.9 1099.4L652 1098.2L654.4 1100.9L657 1101.8L659.2 1097.9L662.9 1097.9L664.1 1113.1L665.1 1150.5L667 1156.8L672.6 1153.5L677 1158.6L680.1 1156.5L682 1160.2L687.6 1164L692 1162.5L696.5 1147.5L699.3 1149.3L701.8 1150.5L701.9 1151.7L701.9 1175.9L701.8 1176.4L699.3 1188.4L696.5 1193.1L692 1195.9L687.6 1191.6L682 1188.8L680.1 1194.6L677 1189.7L672.6 1188.4L667 1191L665.1 1188.4L664.1 1189.6L662.9 1190.1L659.2 1191.4L657 1184.3L654.4 1183.9L652 1179.1L649.9 1173.4L646.9 1173.4L643.9 1173.4L642.5 1174.7L641 1176.4L639 1179.7L636.5 1183.9L635 1193.4L633.5 1205.1L632 1210.8L630.5 1212.5L629.7 1210.8L627.5 1206.6L625.8 1193.4L623.8 1182.4L620.8 1177.9L619.3 1173.4L617.3 1168.9L615.3 1165.9L612.6 1164.5L606.6 1161.5L600.8 1164.7L597.2 1165.5Z" fill="#00ff00" stroke="#00ff00" stroke-width="7" stroke-linejoin="round"/>
<path d="M873.9 1197.2L874.3 1196.6L878.8 1192.5L884.3 1189.1L888.7 1192L893.6 1192.9L896.7 1189.1L903.5 1189.7L909.2 1184.2L913.3 1185.4L918.2 1181.7L921.6 1175.4L928.1 1176.4L934.1 1174.2L937.9 1170.3L942.8 1164.6L946.6 1161.7L952.7 1161.1L959 1158L962.5 1155.5L969 1153L972.4 1153.8L972.4 1161.3L969 1165.9L962.5 1173.1L959 1180.9L952.7 1189.3L946.6 1193.4L942.8 1190.1L937.9 1194.8L934.1 1195.9L928.1 1195.2L921.6 1200.8L918.2 1204.2L913.3 1204.6L909.2 1207.1L903.5 1207.4L896.7 1210.8L893.6 1213.6L888.7 1215.8L884.3 1215.8L878.8 1211.6L874.3 1212L873.9 1211.5Z" fill="#00ffff" stroke="#00ffff" stroke-width="7" stroke-linejoin="round"/>
<path d="M972.3 1154.1L974 1153L977.3 1152.5L983.9 1150.5L988.9 1153L992.3 1146.1L996.4 1139.3L1002.3 1144.5L1008.9 1143L1012.2 1140.4L1018.8 1135.6L1022.2 1131.9L1027.2 1123.6L1031.3 1118.1L1037.2 1119.4L1043.8 1125.6L1047.1 1123.6L1052.1 1119.1L1056.2 1110.7L1063.7 1113.1L1067.1 1108.8L1073.7 1101.9L1077 1108.9L1083.6 1120.6L1087 1116.9L1092 1113.4L1092 1151.2L1087 1151.5L1083.6 1156L1077 1154.9L1073.7 1153.5L1067.1 1155.7L1063.7 1156L1056.2 1151L1052.1 1154.4L1047.1 1155.7L1043.8 1156L1037.2 1155.5L1031.3 1151L1027.2 1153.4L1022.2 1153.1L1018.8 1158.5L1012.2 1162.3L1008.9 1163.5L1002.3 1160.7L996.4 1162.2L992.3 1166L988.9 1173.4L983.9 1168.4L977.3 1168.1L974 1165.9L972.3 1165.9Z" fill="#ff00ff" stroke="#ff00ff" stroke-width="7" stroke-linejoin="round"/>
<path d="M1091.2 1108.1L1096.1 1107.4L1098.6 1106.9L1101 1113.9L1106 1117.2L1108.5 1113.1L1110.9 1115.4L1115.8 1126.7L1121 1138.1L1125.6 1138.9L1130.5 1140.2L1133.5 1133.1L1135.4 1135.2L1140.4 1140.2L1145.9 1143L1150.2 1144.8L1155.1 1146.4L1158.4 1145.5L1164.9 1157.3L1170.8 1168L1174.8 1173.3L1179.7 1170L1183.3 1172.9L1189.5 1169.1L1193.3 1164.2L1199.3 1169.1L1203.2 1175.4L1209.2 1176.6L1213.2 1177.9L1214.1 1178.7L1214.1 1214.2L1213.2 1214.5L1209.2 1207.7L1203.2 1210.8L1199.3 1201.1L1193.3 1200.8L1189.5 1206.5L1183.3 1210.8L1179.7 1201.1L1174.8 1199.5L1170.8 1193.4L1164.9 1191.7L1158.4 1185.9L1155.1 1182.9L1150.2 1187.7L1145.9 1188.4L1140.4 1188L1135.4 1182L1133.5 1185.9L1130.5 1182.9L1125.6 1180.5L1121 1178.4L1115.8 1166.3L1110.9 1162.8L1108.5 1156L1106 1154.2L1101 1147.2L1098.6 1152.2L1096.1 1144L1091.2 1141.2Z" fill="#00ff00" stroke="#00ff00" stroke-width="7" stroke-linejoin="round"/>
<path d="M1214.3 1181.4L1216.9 1177.9L1219.8 1175.5L1223.2 1175.4L1225.4 1173.7L1230.9 1181L1233.1 1174.2L1236.4 1178.8L1243.1 1177.9L1246.8 1187.9L1247.5 1189.6L1247.5 1224.6L1246.8 1225.8L1243.1 1224.5L1236.4 1215.9L1233.1 1215.8L1230.9 1215.2L1225.4 1211.2L1223.2 1215.8L1219.8 1210.9L1216.9 1213.3L1214.3 1210.5Z" fill="#ff0000" stroke="#ff0000" stroke-width="7" stroke-linejoin="round"/>
<g fill="#00ff00"><circle cx="176" cy="1137.6" r="4.1"/><circle cx="637" cy="1053.6" r="4.1"/><circle cx="638.5" cy="1062.3" r="4.1"/><circle cx="636.2" cy="1071" r="4.1"/><circle cx="639.2" cy="1076" r="4.1"/><circle cx="635.7" cy="1059.8" r="4.1"/><circle cx="628.3" cy="1053.6" r="4.1"/><circle cx="629" cy="1062.3" r="4.1"/><circle cx="671.9" cy="1046.1" r="4.1"/><circle cx="663.1" cy="1061.1" r="4.1"/><circle cx="671.9" cy="1061.1" r="4.1"/><circle cx="661.4" cy="1081" r="4.1"/><circle cx="638.2" cy="1057.3" r="4.1"/><circle cx="638.2" cy="1074.8" r="4.1"/><circle cx="630.7" cy="1082.2" r="4.1"/></g>
<g fill="#ff00ff"><circle cx="548" cy="1091" r="4.1"/><circle cx="547.5" cy="1095.9" r="4.1"/><circle cx="549" cy="1100.9" r="4.1"/><circle cx="524.3" cy="1178.2" r="4.1"/><circle cx="578.9" cy="1188.1" r="4.1"/><circle cx="592.1" cy="1223" r="4.1"/><circle cx="102" cy="1171.9" r="4.1"/></g>
<g fill="#00ff00"><circle cx="695.4" cy="1137.1" r="4.1"/><circle cx="693.6" cy="1206.3" r="4.1"/><circle cx="697.4" cy="1149.5" r="4.1"/><circle cx="1109.8" cy="1105.2" r="4.1"/><circle cx="1113" cy="1117.1" r="4.1"/><circle cx="1123.5" cy="1124.6" r="4.1"/><circle cx="1153.9" cy="1124.6" r="4.1"/><circle cx="1134.7" cy="1132.1" r="4.1"/><circle cx="1101.1" cy="1169.4" r="4.1"/><circle cx="1100.6" cy="1184.9" r="4.1"/><circle cx="1121.7" cy="1188.9" r="4.1"/><circle cx="1134.7" cy="1196.9" r="4.1"/><circle cx="1137.9" cy="1187.4" r="4.1"/><circle cx="1167.8" cy="1201.3" r="4.1"/><circle cx="1155.9" cy="1210.6" r="4.1"/><circle cx="1152.2" cy="1223" r="4.1"/><circle cx="1106.1" cy="1169.4" r="4.1"/></g>
<g fill="#00ffff"><circle cx="931.6" cy="1211.3" r="4.1"/><circle cx="962" cy="1196.4" r="4.1"/></g>
<g fill="#ff00ff"><circle cx="988.9" cy="1198.9" r="4.1"/></g>
<g fill="#ff0000"><circle cx="1230.6" cy="1226.3" r="4.1"/><circle cx="1225.2" cy="1245.5" r="4.1"/><circle cx="1244.4" cy="1228" r="4.1"/></g>
<text transform="translate(95.5,1055.3) scale(0.66,1)" text-anchor="end" font-size="47">20</text>
<text transform="translate(95.5,1204.6) scale(0.66,1)" text-anchor="end" font-size="47">10</text>
<text transform="translate(95.5,1354.2) scale(0.66,1)" text-anchor="end" font-size="47">0</text>
<text transform="translate(54,1195) rotate(-90) scale(0.78,1)" text-anchor="middle" font-size="38.5" textLength="186" lengthAdjust="spacing">(mg l<tspan dy="-22" font-size="27">−1</tspan><tspan dy="22">)</tspan></text>
<text x="120.4" y="1402" text-anchor="middle" font-size="39.5">4</text>
<text x="247" y="1402" text-anchor="middle" font-size="39.5">7</text>
<text x="375.5" y="1402" text-anchor="middle" font-size="39.5">10</text>
<text x="489.5" y="1402" text-anchor="middle" font-size="39.5">1</text>
<text x="616" y="1402" text-anchor="middle" font-size="39.5">4</text>
<text x="744.5" y="1402" text-anchor="middle" font-size="39.5">7</text>
<text x="872" y="1402" text-anchor="middle" font-size="39.5">10</text>
<text x="997.6" y="1402" text-anchor="middle" font-size="39.5">1</text>
<text x="1112.5" y="1402" text-anchor="middle" font-size="39.5">4</text>
<text x="1229" y="1402" text-anchor="middle" font-size="39.5">7</text>
<text x="177.3" y="1453.5" font-size="40" textLength="92.5" lengthAdjust="spacingAndGlyphs">2017</text>
<text x="673.8" y="1453.5" font-size="40" textLength="92.5" lengthAdjust="spacingAndGlyphs">2018</text>
<text x="1159.8" y="1453.5" font-size="40" textLength="92.5" lengthAdjust="spacingAndGlyphs">2019</text>
<text transform="translate(696,1013.3) scale(0.701,1)" text-anchor="middle" font-size="50.4">Dissolved oxygen</text>
<text x="2" y="1010.4" font-size="40" font-weight="bold">C</text>
</g>
<g id="panelD">
<rect x="1337.5" y="67.9" width="1144.5" height="296.7" fill="none" stroke="#303030" stroke-width="2.1"/>
<path d="M1337.5 166.5h12M2482 166.5h-12M1337.5 263.5h12M2482 263.5h-12" stroke="#303030" stroke-width="1.6" fill="none"/>
<path d="M1910.5 67.9v16M1910.5 364.6v-16" stroke="#303030" stroke-width="1.4" fill="none"/>
<path d="M1375.6 227.2L1376 226.7L1380.7 229.6L1384.7 220.4L1391 221.8L1394.7 219.2L1399.7 210.5L1406.4 222.4L1409.6 217.9L1411.5 222.4L1416.7 208L1422.1 204.2L1426.9 200.3L1429.6 206.7L1432.1 223.9L1437.1 232.9L1442.3 238.5L1444.5 235.4L1447.5 227.3L1449.5 217.9L1453.3 212.9L1458.2 232.9L1462.9 242.1L1462.9 261.7L1458.2 273.2L1453.3 272L1449.5 272L1447.5 260.4L1444.5 270.7L1442.3 279.1L1437.1 278.2L1432.1 268.3L1429.6 273.2L1426.9 273.3L1422.1 268.2L1416.7 265.3L1411.5 262.4L1409.6 253.3L1406.4 247.7L1399.7 253.3L1394.7 250.8L1391 239L1384.7 245.8L1380.7 247L1376 249.6L1375.6 249.4Z" fill="#00ff00" stroke="#00ff00" stroke-width="7" stroke-linejoin="round"/>
<path d="M1463.1 236.9L1464.5 235.4L1468 237L1474.4 220.4L1477.9 225.6L1484.4 215.4L1487.9 223.5L1494.4 225.4L1499.4 210.5L1501.8 208L1505.6 217.9L1509.3 203L1514.3 215.4L1519.3 212.9L1522.5 215.8L1526.8 217.9L1530.5 215.4L1534.2 205.5L1537.4 219.6L1539.2 217.9L1542.4 222.5L1544.2 222.9L1547.3 218.1L1549.2 217.9L1552.3 212.5L1557.2 213.2L1559.2 220.4L1562.2 224.3L1565.4 222.9L1569.1 208L1572.1 216.7L1574.1 215.4L1577 222.2L1579.1 210.5L1582 207.8L1586.6 215.4L1587 216.6L1587 240.4L1586.6 240.8L1582 234.9L1579.1 243.3L1577 249.7L1574.1 248.3L1572.1 240.8L1569.1 250.8L1565.4 250.8L1562.2 239.6L1559.2 248.3L1557.2 243.8L1552.3 250.2L1549.2 250.8L1547.3 252.8L1544.2 253.3L1542.4 252.6L1539.2 255.8L1537.4 259.9L1534.2 258.3L1530.5 260.8L1526.8 263.3L1522.5 259.8L1519.3 255.8L1514.3 260.8L1509.3 263.3L1505.6 262L1501.8 260.8L1499.4 259.5L1494.4 258.3L1487.9 264.2L1484.4 258.3L1477.9 253L1474.4 257L1468 258.5L1464.5 258.3L1463.1 258.3Z" fill="#ff0000" stroke="#ff0000" stroke-width="7" stroke-linejoin="round"/>
<path d="M1587.7 218.4L1589.1 217.9L1592.8 217.8L1599 212.9L1603.2 217.8L1609 208L1613.5 205.6L1616.5 203L1618.7 204.6L1623.8 210.5L1626.4 206.7L1629 206.2L1634.2 218.7L1636.4 212.9L1639.3 213.3L1644.5 218.6L1648.9 222.9L1654.8 229.5L1661.3 227.9L1665.2 233.4L1670.3 230.9L1673.8 231.6L1680 234.1L1680.7 235L1680.7 245.6L1680 246.3L1673.8 244.6L1670.3 245.6L1665.2 243.2L1661.3 239.6L1654.8 239L1648.9 238.3L1644.5 238.3L1639.3 229L1636.4 230.9L1634.2 233.2L1629 226.1L1626.4 223.4L1623.8 222.1L1618.7 215.8L1616.5 220.9L1613.5 219.9L1609 228.4L1603.2 236.7L1599 235.9L1592.8 236.2L1589.1 235.9L1587.7 234.9Z" fill="#00ffff" stroke="#00ffff" stroke-width="7" stroke-linejoin="round"/>
<path d="M1835.4 204.9L1835.8 203L1840.4 207.8L1843.2 193L1845.4 196.3L1848.2 180.6L1850.4 182.1L1855.7 188L1861.9 183L1864.4 155.6L1868.2 155.6L1870.6 190.5L1873.1 193L1875.5 200.4L1880.5 203.5L1885.6 193L1890.5 204.7L1896.1 203L1900 205.5L1905.6 211.2L1910 208L1915.6 215.2L1917.4 206.7L1920.6 212.5L1924.9 215.4L1927.9 215.4L1931.1 215.4L1934.9 212.9L1940.7 225.3L1944.9 217.9L1950.7 228.9L1954.8 227.9L1955.7 228.6L1955.7 250.8L1954.8 250.8L1950.7 249.5L1944.9 245.8L1940.7 242.1L1934.9 250.8L1931.1 255.8L1927.9 263.3L1924.9 258.3L1920.6 247.6L1917.4 248.3L1915.6 248L1910 245.8L1905.6 236.3L1900 248.3L1896.1 248.3L1890.5 236.1L1885.6 235.9L1880.5 228.8L1875.5 227.6L1873.1 233.4L1870.6 233.4L1868.2 228.4L1864.4 228.4L1861.9 228.4L1855.7 230.9L1850.4 220.6L1848.2 223.4L1845.4 221.1L1843.2 233.4L1840.4 230.5L1835.8 240.8L1835.4 240.8Z" fill="#00ff00" stroke="#00ff00" stroke-width="7" stroke-linejoin="round"/>
<path d="M1958.2 228.8L1964.8 227.9L1968.5 210.5L1972.3 206.7L1974.8 217.9L1979.7 217.9L1983.5 215.4L1987.2 215.4L1990.2 232.9L1994.7 235.4L1998.1 232.5L2004.7 235.4L2008 239.2L2014.6 240.4L2018.4 242.9L2022.1 242.9L2027.1 240.4L2034.6 237.9L2037.9 234.9L2044.5 235.4L2047.9 231.8L2054.5 232.9L2057.9 228L2064.5 227.9L2067.8 220.7L2074.4 225.4L2077.8 224.6L2077.8 248.7L2074.4 253.3L2067.8 254.7L2064.5 253.3L2057.9 257.8L2054.5 255.8L2047.9 259.3L2044.5 255.8L2037.9 254L2034.6 260.8L2027.1 270.7L2022.1 275.7L2018.4 279.5L2014.6 275.7L2008 274.6L2004.7 268.2L1998.1 269.6L1994.7 260.8L1990.2 258.3L1987.2 255.8L1983.5 253.3L1979.7 250.8L1974.8 252L1972.3 253.3L1968.5 254.5L1964.8 255.8L1958.2 253.9Z" fill="#ff0000" stroke="#ff0000" stroke-width="7" stroke-linejoin="round"/>
<path d="M2083 224.2L2089.4 220.4L2093.4 224.2L2096.9 212.9L2104.3 200.5L2109 191.5L2111.8 191.8L2114.2 193.8L2114.2 228.1L2111.8 233.4L2109 240.2L2104.3 240.8L2096.9 238.3L2093.4 238.4L2089.4 245.8L2083 246.8Z" fill="#00ffff" stroke="#00ffff" stroke-width="7" stroke-linejoin="round"/>
<path d="M2158.8 223.3L2159.2 222.9L2164.1 220.4L2169.2 214.8L2174.1 215.4L2179.6 219.5L2186.6 208L2190 214.3L2195.2 211.8L2199 203L2205.7 210.5L2209 212.9L2210.9 215.3L2210.9 222.8L2209 223.4L2205.7 216L2199 220.9L2195.2 225.4L2190 221L2186.6 225.9L2179.6 225L2174.1 228.4L2169.2 225.5L2164.1 233.4L2159.2 229.6L2158.8 229.4Z" fill="#00ffff" stroke="#00ffff" stroke-width="7" stroke-linejoin="round"/>
<path d="M2208.1 199.5L2209 198L2211.5 195.5L2216.5 193L2221.5 190.5L2223.9 168.1L2228.3 180.4L2231.4 173.1L2233.3 160.6L2235.2 155.6L2238.3 161L2240.1 154.4L2243.4 154L2246.4 160.6L2248.4 157.1L2253.4 177.4L2256.3 170.6L2260.1 170.6L2261.8 146.9L2265.8 145.7L2268.8 155.6L2270.8 203L2273.8 205.5L2278.6 209.1L2283.8 209.2L2288.7 200.8L2293.7 196.8L2298.8 194.1L2301.2 194.3L2303.8 203.3L2308.7 193L2313.9 195.6L2318.6 208L2324 200.1L2328.6 203L2329 203.4L2329 228L2328.6 228.4L2324 234.2L2318.6 235.9L2313.9 230L2308.7 230.9L2303.8 233.6L2301.2 233.4L2298.8 239.6L2293.7 235.9L2288.7 237.3L2283.8 235.9L2278.6 242.3L2273.8 239.6L2270.8 238.3L2268.8 235.9L2265.8 215.9L2261.8 215.9L2260.1 210.9L2256.3 210.9L2253.4 215.9L2248.4 210L2246.4 213.4L2243.4 218.9L2240.1 214.7L2238.3 212.1L2235.2 214.7L2233.3 215.7L2231.4 215.9L2228.3 214.5L2223.9 215.9L2221.5 215.9L2216.5 215.9L2211.5 218.4L2209 229.6L2208.1 224.1Z" fill="#ff00ff" stroke="#ff00ff" stroke-width="7" stroke-linejoin="round"/>
<path d="M2327.7 196L2328.6 193L2332.8 192.5L2338.6 185.5L2344.1 160.6L2347.3 155.6L2351 160.6L2353.1 176L2356 185.5L2358.2 179.7L2363.5 180.6L2368.3 189.7L2373.5 193L2378.5 199.1L2383.4 190.5L2385.9 179.3L2389.7 178.1L2392.2 212.9L2394.6 215.4L2398.8 221.3L2403.4 220.4L2408.9 226.5L2413.3 227.9L2419.1 234.5L2425.8 227.9L2429.2 222.3L2435.8 220.4L2439.4 213.6L2445.7 217.9L2449.5 216.3L2454.4 208L2454.6 208.1L2454.6 245.7L2454.4 245.8L2449.5 253.5L2445.7 250.8L2439.4 244.7L2435.8 253.3L2429.2 261L2425.8 262L2419.1 264.4L2413.3 255.8L2408.9 259.1L2403.4 248.3L2398.8 243.4L2394.6 243.3L2392.2 244.6L2389.7 250.8L2385.9 248.3L2383.4 245.8L2378.5 248.7L2373.5 238.3L2368.3 238L2363.5 233.4L2358.2 236.9L2356 230.9L2353.1 220.4L2351 229.6L2347.3 228.4L2344.1 225.9L2338.6 222.1L2332.8 221.3L2328.6 220.9L2327.7 220.9Z" fill="#00ff00" stroke="#00ff00" stroke-width="7" stroke-linejoin="round"/>
<path d="M2453.3 204.1L2454.4 198L2458.2 195.5L2463.5 207.9L2468.2 199.2L2473.8 199L2478.1 200.5L2481.9 198L2484 202.3L2484 252.9L2481.9 250.8L2478.1 243.3L2473.8 245.9L2468.2 240.8L2463.5 235L2458.2 243.3L2454.4 238.3L2453.3 236.6Z" fill="#ff0000" stroke="#ff0000" stroke-width="7" stroke-linejoin="round"/>
<g fill="#00ffff"><circle cx="1605.3" cy="248.1" r="4.1"/><circle cx="1604.5" cy="245.6" r="4.1"/></g>
<g fill="#00ff00"><circle cx="1923.7" cy="292.4" r="4.1"/><circle cx="2375.5" cy="247.3" r="4.1"/></g>
<g fill="#00ffff"><circle cx="2088.9" cy="265.5" r="4.1"/><circle cx="2088.9" cy="263" r="4.1"/></g>
<g fill="#ff00ff"><circle cx="2208.2" cy="231.9" r="4.1"/></g>
<g fill="#ff0000"><circle cx="2462.7" cy="265.5" r="4.1"/><circle cx="2465.7" cy="289.2" r="4.1"/><circle cx="2481.9" cy="295.4" r="4.1"/><circle cx="2481.9" cy="297.9" r="4.1"/></g>
<g fill="none" stroke="#222" stroke-width="1.25"><ellipse cx="1547.2" cy="259.3" rx="6.8" ry="9.6"/><ellipse cx="1622" cy="239.4" rx="6.8" ry="9.6"/><ellipse cx="1677.5" cy="229.9" rx="6.8" ry="9.6"/><ellipse cx="1753.5" cy="200.7" rx="6.8" ry="9.6"/><ellipse cx="1835.8" cy="212.7" rx="6.8" ry="9.6"/><ellipse cx="1898.1" cy="222.7" rx="6.8" ry="9.6"/><ellipse cx="1934.9" cy="229.4" rx="6.8" ry="9.6"/><ellipse cx="1983" cy="234.4" rx="6.8" ry="9.6"/><ellipse cx="2027.6" cy="236.9" rx="6.8" ry="9.6"/><ellipse cx="2054" cy="224.4" rx="6.8" ry="9.6"/><ellipse cx="2111.3" cy="216.9" rx="6.8" ry="9.6"/><ellipse cx="2159.2" cy="214.9" rx="6.8" ry="9.6"/><ellipse cx="2390.4" cy="222.7" rx="6.8" ry="9.6"/><ellipse cx="2481.1" cy="244.3" rx="6.8" ry="9.6"/></g>
<text transform="translate(1330,82.6) scale(0.66,1)" text-anchor="end" font-size="47">9</text>
<text transform="translate(1330,181.2) scale(0.66,1)" text-anchor="end" font-size="47">8.5</text>
<text transform="translate(1330,278.2) scale(0.66,1)" text-anchor="end" font-size="47">8</text>
<text transform="translate(1330,378.3) scale(0.66,1)" text-anchor="end" font-size="47">7.5</text>
<text x="1359" y="412.1" text-anchor="middle" font-size="39.5">4</text>
<text x="1486.5" y="412.1" text-anchor="middle" font-size="39.5">7</text>
<text x="1614.5" y="412.1" text-anchor="middle" font-size="39.5">10</text>
<text x="1729" y="412.1" text-anchor="middle" font-size="39.5">1</text>
<text x="1856" y="412.1" text-anchor="middle" font-size="39.5">4</text>
<text x="1981.5" y="412.1" text-anchor="middle" font-size="39.5">7</text>
<text x="2111.8" y="412.1" text-anchor="middle" font-size="39.5">10</text>
<text x="2236.5" y="412.1" text-anchor="middle" font-size="39.5">1</text>
<text x="2351.5" y="412.1" text-anchor="middle" font-size="39.5">4</text>
<text x="2468" y="412.1" text-anchor="middle" font-size="39.5">7</text>
<text x="1416.2" y="462.1" font-size="40" textLength="92.5" lengthAdjust="spacingAndGlyphs">2017</text>
<text x="1913.8" y="462.1" font-size="40" textLength="92.5" lengthAdjust="spacingAndGlyphs">2018</text>
<text x="2398.2" y="462.1" font-size="40" textLength="92.5" lengthAdjust="spacingAndGlyphs">2019</text>
<text transform="translate(1931,41) scale(0.701,1)" text-anchor="middle" font-size="50.4">pH</text>
<text x="1263" y="40.3" font-size="40" font-weight="bold">D</text>
</g>
<g id="panelE">
<rect x="1337.5" y="555.2" width="1144.5" height="298.7" fill="none" stroke="#303030" stroke-width="2.1"/>
<path d="M1337.5 704.6h12M2482 704.6h-12" stroke="#303030" stroke-width="1.6" fill="none"/>
<path d="M1910.5 555.2v16M1910.5 853.9v-16" stroke="#303030" stroke-width="1.4" fill="none"/>
<path d="M1375.6 723.6L1376 722.8L1382.2 705.4L1385.9 714.1L1389.7 705.4L1396.1 684.4L1398.4 687.9L1401.3 702.8L1407.2 697.9L1411.5 685.1L1417.1 682.9L1422.1 668L1426.9 664.3L1429.6 665.5L1433.3 687.9L1437.1 710.4L1442.3 712.3L1444.5 697.9L1447.5 688.9L1449.5 678L1452.6 679.3L1454.5 668L1457.5 678L1462 697.9L1462.9 702.4L1462.9 743.5L1462 745.7L1457.5 754.4L1454.5 755.7L1452.6 752.6L1449.5 753.2L1447.5 762.7L1444.5 763.2L1442.3 763L1437.1 775.6L1433.3 770.6L1429.6 765.7L1426.9 767.4L1422.1 755.7L1417.1 750.7L1411.5 754.4L1407.2 745.7L1401.3 756.4L1398.4 750.7L1396.1 752.3L1389.7 748.2L1385.9 748.9L1382.2 745.7L1376 753.2L1375.6 753Z" fill="#00ff00" stroke="#00ff00" stroke-width="7" stroke-linejoin="round"/>
<path d="M1463.1 698.6L1465.7 697.9L1469.4 675.5L1473 676L1479.4 658L1482.9 657.6L1489.4 660.5L1492.8 660.2L1499.4 658L1502.7 654.5L1505.6 653L1507.3 623.1L1511.8 621.9L1516.8 643.1L1522.5 640.9L1526.8 653L1530.5 630.6L1534.2 623.1L1538 638.1L1541.7 653L1547.3 660.4L1549.2 645.6L1552.3 657.4L1557.2 648.5L1559.2 650.6L1562.2 648.2L1565.4 653L1569.1 648.1L1572.1 640.6L1577 649.2L1579.1 649.3L1582 652.3L1586.6 658L1587 659.6L1587 695.5L1586.6 695.9L1582 691.3L1579.1 698.4L1577 706.5L1572.1 701.8L1569.1 700.9L1565.4 698.4L1562.2 682.6L1559.2 693.4L1557.2 687.3L1552.3 685.4L1549.2 695.9L1547.3 698.8L1541.7 703.4L1538 703.4L1534.2 703.4L1530.5 705.9L1526.8 713.3L1522.5 700L1516.8 700.9L1511.8 713.3L1507.3 715.8L1505.6 713.3L1502.7 711.5L1499.4 705.9L1492.8 700.2L1489.4 705.9L1482.9 720.5L1479.4 715.8L1473 724L1469.4 725.8L1465.7 730.8L1463.1 730.8Z" fill="#ff0000" stroke="#ff0000" stroke-width="7" stroke-linejoin="round"/>
<path d="M1587.7 662.8L1589.1 661.8L1592.8 665.6L1599 655.5L1603.1 649.8L1609 660.5L1613.4 655.1L1616.5 655.5L1618.6 663.6L1623.7 673.3L1626.4 665.5L1628.9 662L1634 672.1L1636.4 680.5L1639.2 684.6L1644.3 686.4L1648.9 697.9L1654.6 700.9L1658.8 710.4L1665 715.8L1668.8 716.6L1675.3 717.7L1678.8 722.8L1680.4 726.1L1680.4 748.5L1678.8 750.7L1675.3 740.9L1668.8 740.7L1665 741.3L1658.8 735.8L1654.6 737.4L1648.9 725.8L1644.3 723.6L1639.2 719.9L1636.4 710.8L1634 707.2L1628.9 701.1L1626.4 703.4L1623.7 698.8L1618.6 703.7L1616.5 698.4L1613.4 692.4L1609 695.9L1603.1 692.4L1599 698.4L1592.8 703.9L1589.1 698.4L1587.7 696.4Z" fill="#00ffff" stroke="#00ffff" stroke-width="7" stroke-linejoin="round"/>
<path d="M1835.4 694.5L1835.8 692.9L1840.4 696.2L1843.2 680.5L1845.4 664.1L1849.5 656.8L1855.5 659.1L1858.2 660.5L1860.5 661.5L1862.7 653L1864.7 615.7L1868.2 615.7L1870.6 660.5L1873.1 665.5L1875.6 680.3L1880.6 675.5L1885.7 665.3L1888.1 660.5L1890.8 674.7L1896.1 673L1900 675.5L1905.9 681.2L1910 673L1917.4 673L1921 684.9L1924.9 675.5L1932.4 665.5L1936.1 685.9L1939.9 682.9L1947.3 680.5L1951.2 678.1L1956.1 685.4L1956.2 685.6L1956.2 728.1L1956.1 728.3L1951.2 717.5L1947.3 723.3L1939.9 735.8L1936.1 737.2L1932.4 740.7L1924.9 735.8L1921 723.4L1917.4 725.8L1910 733.3L1905.9 734.1L1900 738.2L1896.1 745.7L1890.8 734.6L1888.1 738.2L1885.7 725.7L1880.6 733.3L1875.6 738.9L1873.1 730.8L1870.6 729.5L1868.2 728.3L1864.7 728.3L1862.7 728.3L1860.5 729.6L1858.2 728.3L1855.5 722.1L1849.5 730.8L1845.4 743.5L1843.2 738.2L1840.4 748.3L1835.8 743.2L1835.4 742.8Z" fill="#00ff00" stroke="#00ff00" stroke-width="7" stroke-linejoin="round"/>
<path d="M1958.2 695.8L1964.8 692.9L1968.5 660.5L1972.8 658L1975.3 675.5L1979.7 675.5L1982.2 659.3L1986.7 658L1989.2 675.5L1994.7 675.5L1998 667.1L2004.7 673L2008 679.4L2014.6 675.5L2018 684.7L2024.6 666.8L2028 665.9L2034.6 680.5L2037.9 683L2044.5 673L2047.9 679.4L2054.5 660.5L2057.9 665.5L2064.5 663L2067.8 670.2L2071.9 665.5L2074.4 665.5L2077.8 672.5L2082.8 670.3L2082.8 701.3L2077.8 706.7L2074.4 710.8L2071.9 712.1L2067.8 694.8L2064.5 700.9L2057.9 701.4L2054.5 703.4L2047.9 700.1L2044.5 708.3L2037.9 709.8L2034.6 710.8L2028 712L2024.6 723.3L2018 730.6L2014.6 723.3L2008 723.9L2004.7 715.8L1998 710.6L1994.7 718.3L1989.2 720.8L1986.7 723.3L1982.2 720.8L1979.7 718.3L1975.3 719.6L1972.8 723.3L1968.5 725.8L1964.8 733.3L1958.2 729.5Z" fill="#ff0000" stroke="#ff0000" stroke-width="7" stroke-linejoin="round"/>
<path d="M2083 673.9L2089.4 665.5L2093.7 662L2099.4 664.3L2105.6 648.1L2110.6 645.6L2115.2 654.8L2115.2 691.4L2110.6 698.4L2105.6 699.6L2099.4 700.9L2093.7 693.7L2089.4 703.4L2083 703.4Z" fill="#00ffff" stroke="#00ffff" stroke-width="7" stroke-linejoin="round"/>
<path d="M2158.8 712.2L2159.2 711.6L2164.1 705.4L2169.2 709.3L2174.1 710.4L2179.6 715.2L2184.1 702.9L2190 707.4L2196.5 694.2L2200.5 708.1L2202.8 702.9L2206.5 702.9L2210.9 713.8L2210.9 738.2L2206.5 738.2L2202.8 730.8L2200.5 723.5L2196.5 728.3L2190 735L2184.1 730.8L2179.6 735.1L2174.1 730.8L2169.2 726.5L2164.1 730.8L2159.2 728.3L2158.8 727.9Z" fill="#00ffff" stroke="#00ffff" stroke-width="7" stroke-linejoin="round"/>
<path d="M2208.6 679.5L2209 678L2213.9 671.4L2216.5 674.2L2220.2 673L2222 648.1L2223.9 643.1L2229.9 654.4L2233.9 643.1L2240.6 652.9L2243.9 640.6L2245.9 638.8L2251.2 641.5L2253.8 643.1L2258.3 640.6L2259.3 599.5L2261.9 604.7L2266.3 598.2L2267.2 607.1L2267.2 720.5L2266.3 723.8L2261.9 723.2L2259.3 724.8L2258.3 725.3L2253.8 725.8L2251.2 731.1L2245.9 729.3L2243.9 728.3L2240.6 728.8L2233.9 728.3L2229.9 715.5L2223.9 728.3L2222 729.5L2220.2 730L2216.5 730.8L2213.9 728.1L2209 718.3L2208.6 717.5Z" fill="#ff00ff" stroke="#ff00ff" stroke-width="7" stroke-linejoin="round"/>
<path d="M2263.4 738.6L2263.8 737.8L2268.8 730.3L2273.5 722.5L2276.3 710.4L2278.6 720.3L2283.6 722.6L2286.2 722.8L2288.6 731.1L2293.7 716.5L2296.2 705.4L2298.7 697.2L2303.7 705.4L2308.8 701.3L2311.2 695.4L2313.9 704.4L2318.9 702.5L2321.1 707.9L2324 695.3L2328.6 692.9L2329 693.7L2329 742.4L2328.6 743.2L2324 749.8L2321.1 750.7L2318.9 748.9L2313.9 758.4L2311.2 750.7L2308.8 749.7L2303.7 755.7L2298.7 750.6L2296.2 755.7L2293.7 763.1L2288.6 763.7L2286.2 763.2L2283.6 754.5L2278.6 770.8L2276.3 770.6L2273.5 772.9L2268.8 773.1L2263.8 770.6L2263.4 769.9Z" fill="#ff00ff" stroke="#ff00ff" stroke-width="7" stroke-linejoin="round"/>
<path d="M2327.7 689.4L2328.6 687.9L2332.8 670.6L2336.1 668L2343.6 633.1L2346.5 626.9L2349.8 633.1L2353.5 658L2358.2 659L2363.5 660.5L2368.3 659.7L2373.5 655.5L2378.5 656.1L2383.4 648.1L2388.6 656L2390.9 655.5L2393.7 663.2L2398.4 682.9L2403.8 692L2408.3 687.9L2414 697.3L2418.3 685.4L2422.1 687.9L2424.5 685.4L2428.3 670.5L2434.3 682L2438.3 680.5L2444.4 679L2448.2 663L2454.4 660.5L2454.6 660.7L2454.6 700.7L2454.4 700.9L2448.2 713.3L2444.4 711.6L2438.3 715.8L2434.3 716.6L2428.3 718.3L2424.5 730.8L2422.1 740.7L2418.3 730.8L2414 732L2408.3 723.3L2403.8 723.7L2398.4 720.8L2393.7 716L2390.9 723.3L2388.6 730.4L2383.4 728.3L2378.5 720.6L2373.5 728.3L2368.3 722.9L2363.5 720.8L2358.2 724.2L2353.5 720.8L2349.8 722L2346.5 723.3L2343.6 723.3L2336.1 725.8L2332.8 724.5L2328.6 730.8L2327.7 730.8Z" fill="#00ff00" stroke="#00ff00" stroke-width="7" stroke-linejoin="round"/>
<path d="M2452.8 654.6L2454.4 648.1L2458 654.9L2460.7 645.6L2463.2 650.2L2468.4 639.8L2470.6 645.6L2473.6 643.8L2478.1 641.8L2481.1 639.3L2484 651.5L2484 688.7L2481.1 690.9L2478.1 692.1L2473.6 697L2470.6 693.4L2468.4 687.2L2463.2 692.4L2460.7 695.9L2458 700.6L2454.4 693.4L2452.8 692.3Z" fill="#ff0000" stroke="#ff0000" stroke-width="7" stroke-linejoin="round"/>
<g fill="#ff0000"><circle cx="1500.1" cy="632.1" r="4.1"/><circle cx="1500.1" cy="637.1" r="4.1"/><circle cx="1500.1" cy="643.3" r="4.1"/><circle cx="1569.6" cy="637.1" r="4.1"/></g>
<g fill="#00ffff"><circle cx="1604.5" cy="718.1" r="4.1"/><circle cx="1604.5" cy="720.6" r="4.1"/></g>
<g fill="#00ff00"><circle cx="1923.7" cy="792.3" r="4.1"/><circle cx="2361" cy="637.1" r="4.1"/><circle cx="2382.9" cy="634.6" r="4.1"/></g>
<g fill="#00ffff"><circle cx="2088.9" cy="717.3" r="4.1"/></g>
<g fill="#ff00ff"><circle cx="2208.2" cy="745.5" r="4.1"/><circle cx="2225.7" cy="600" r="4.1"/><circle cx="2225.7" cy="614.9" r="4.1"/><circle cx="2225.7" cy="629.9" r="4.1"/><circle cx="2225.2" cy="643.6" r="4.1"/><circle cx="2238.4" cy="600" r="4.1"/><circle cx="2238.4" cy="616.4" r="4.1"/><circle cx="2237.9" cy="629.9" r="4.1"/><circle cx="2244.4" cy="601.5" r="4.1"/><circle cx="2241.4" cy="601" r="4.1"/><circle cx="2248.9" cy="626.9" r="4.1"/><circle cx="2248.4" cy="634.6" r="4.1"/><circle cx="2253.8" cy="629.6" r="4.1"/><circle cx="2232.7" cy="634.6" r="4.1"/></g>
<g fill="#ff0000"><circle cx="2462.7" cy="710.6" r="4.1"/><circle cx="2465.7" cy="728" r="4.1"/></g>
<g fill="none" stroke="#222" stroke-width="1.25"><ellipse cx="1547.2" cy="707.4" rx="6.8" ry="9.6"/><ellipse cx="1622" cy="711.8" rx="6.8" ry="9.6"/><ellipse cx="1677.5" cy="723.8" rx="6.8" ry="9.6"/><ellipse cx="1753.5" cy="731.8" rx="6.8" ry="9.6"/><ellipse cx="1835.3" cy="701.9" rx="6.8" ry="9.6"/><ellipse cx="1898.1" cy="701.9" rx="6.8" ry="9.6"/><ellipse cx="1934.9" cy="711.8" rx="6.8" ry="9.6"/><ellipse cx="1983" cy="687.4" rx="6.8" ry="9.6"/><ellipse cx="2027.6" cy="677.5" rx="6.8" ry="9.6"/><ellipse cx="2054" cy="663.3" rx="6.8" ry="9.6"/><ellipse cx="2111.3" cy="667.5" rx="6.8" ry="9.6"/><ellipse cx="2159.2" cy="694.9" rx="6.8" ry="9.6"/><ellipse cx="2390.4" cy="699.9" rx="6.8" ry="9.6"/><ellipse cx="2481.1" cy="695.6" rx="6.8" ry="9.6"/></g>
<text transform="translate(1330,569.6) scale(0.66,1)" text-anchor="end" font-size="47">8.5</text>
<text transform="translate(1330,719.3) scale(0.66,1)" text-anchor="end" font-size="47">8</text>
<text transform="translate(1330,868.6) scale(0.66,1)" text-anchor="end" font-size="47">7.5</text>
<text x="1359" y="901.4" text-anchor="middle" font-size="39.5">4</text>
<text x="1486.5" y="901.4" text-anchor="middle" font-size="39.5">7</text>
<text x="1614.5" y="901.4" text-anchor="middle" font-size="39.5">10</text>
<text x="1729" y="901.4" text-anchor="middle" font-size="39.5">1</text>
<text x="1856" y="901.4" text-anchor="middle" font-size="39.5">4</text>
<text x="1981.5" y="901.4" text-anchor="middle" font-size="39.5">7</text>
<text x="2111.8" y="901.4" text-anchor="middle" font-size="39.5">10</text>
<text x="2236.5" y="901.4" text-anchor="middle" font-size="39.5">1</text>
<text x="2351.5" y="901.4" text-anchor="middle" font-size="39.5">4</text>
<text x="2468" y="901.4" text-anchor="middle" font-size="39.5">7</text>
<text x="1416.2" y="951.4" font-size="40" textLength="92.5" lengthAdjust="spacingAndGlyphs">2017</text>
<text x="1913.8" y="951.4" font-size="40" textLength="92.5" lengthAdjust="spacingAndGlyphs">2018</text>
<text x="2398.2" y="951.4" font-size="40" textLength="92.5" lengthAdjust="spacingAndGlyphs">2019</text>
<text transform="translate(1931.5,527.3) scale(0.701,1)" text-anchor="middle" font-size="50.4">pH at 25<tspan dy="-9" font-size="46">°</tspan><tspan dy="9">C</tspan></text>
<text x="1263" y="522" font-size="40" font-weight="bold">E</text>
</g>
<g id="panelF">
<rect x="1348.6" y="1252.5" width="1135.4" height="23" fill="#fffacd"/>
<rect x="1338.6" y="1275.4" width="1145.4" height="64.6" fill="#ffcccc"/>
<path d="M1338.6 1275.2H2484" stroke="#4a2a2a" stroke-width="1.1" fill="none"/>
<rect x="1338.6" y="1042.5" width="1145.4" height="297.5" fill="none" stroke="#303030" stroke-width="2.1"/>
<path d="M1338.6 1100.9h12M2484 1100.9h-12M1338.6 1220.5h12M2484 1220.5h-12" stroke="#303030" stroke-width="1.6" fill="none"/>
<path d="M1910.5 1042.5v16M1910.5 1340v-16" stroke="#303030" stroke-width="1.4" fill="none"/>
<path d="M1338.6 1250.9H2484" stroke="#111" stroke-width="1.6" stroke-dasharray="3.6 4" fill="none"/>
<path d="M1375.6 1191.2L1376 1190.4L1382.2 1177.9L1385.9 1177L1389.7 1175.4L1396.1 1151L1398.4 1155.5L1401.3 1151.4L1407.2 1163L1411.5 1153.1L1417.1 1143L1422.1 1128.1L1426.9 1133.5L1429.6 1125.6L1433.3 1158L1437.1 1182.9L1442.3 1174.9L1444.5 1163L1447.5 1166.2L1449.5 1143L1452.6 1135.4L1454.5 1128.1L1457.5 1143L1462 1177.9L1462.9 1183.9L1462.9 1211.8L1462 1213.3L1457.5 1219.5L1454.5 1220.8L1452.6 1211.1L1449.5 1218.3L1447.5 1227L1444.5 1228.2L1442.3 1228.1L1437.1 1240.7L1433.3 1235.7L1429.6 1230.7L1426.9 1225.4L1422.1 1223.3L1417.1 1220.8L1411.5 1209.8L1407.2 1213.3L1401.3 1225.7L1398.4 1218.3L1396.1 1209.9L1389.7 1218.3L1385.9 1205.9L1382.2 1215.8L1376 1218.3L1375.6 1218.1Z" fill="#00ff00" stroke="#00ff00" stroke-width="7" stroke-linejoin="round"/>
<path d="M1463.1 1165.1L1465.7 1163L1469.4 1135.6L1473 1139.7L1479.4 1113.1L1484.4 1108.2L1488 1119.3L1491.9 1118.1L1499.4 1115.6L1502.9 1121.7L1504.8 1113.1L1506.8 1065.8L1511.8 1064.6L1516.8 1078.3L1521.8 1098.2L1526.8 1103.2L1530.5 1068.3L1532.7 1057.5L1535.5 1062.1L1538.7 1085.7L1541.7 1103.2L1549.2 1094.5L1554.2 1103.2L1559.2 1103.2L1562.9 1103.2L1569.1 1103.2L1572.5 1096.1L1579.1 1099.4L1582.5 1115.4L1586.6 1110.7L1587.5 1112.9L1587.5 1162.7L1586.6 1163.5L1582.5 1156.7L1579.1 1168.4L1572.5 1173.3L1569.1 1170.9L1562.9 1180.9L1559.2 1180.9L1554.2 1170.9L1549.2 1168.4L1541.7 1170.9L1538.7 1168.4L1535.5 1165.9L1532.7 1161.8L1530.5 1168.4L1526.8 1173.4L1521.8 1170.9L1516.8 1165.9L1511.8 1178.4L1506.8 1179.7L1504.8 1178.4L1502.9 1181.5L1499.4 1173.4L1491.9 1175.9L1488 1169.4L1484.4 1175.9L1479.4 1183.4L1473 1181.1L1469.4 1195.9L1465.7 1198.3L1463.1 1198.3Z" fill="#ff0000" stroke="#ff0000" stroke-width="7" stroke-linejoin="round"/>
<path d="M1587.7 1122.1L1589.1 1120.6L1592.8 1121.9L1599 1111.9L1603.2 1132.1L1609 1123.1L1613.5 1128.6L1616.5 1118.1L1618.7 1114.7L1623.8 1126.3L1626.4 1135.6L1629 1147.8L1634.2 1143.3L1636.4 1148L1639.3 1159.6L1644.5 1152.8L1646.4 1163L1649.7 1168.8L1653.8 1180.4L1660 1180.9L1663.8 1190.4L1670.3 1185.3L1673.8 1192.9L1680 1202.9L1680.7 1204.6L1680.7 1224.6L1680 1225.8L1673.8 1223.3L1670.3 1220.3L1663.8 1215.8L1660 1210.5L1653.8 1215.8L1649.7 1199.3L1646.4 1198.3L1644.5 1202.1L1639.3 1189.7L1636.4 1193.4L1634.2 1197.9L1629 1190.5L1626.4 1180.9L1623.8 1183.7L1618.7 1179.3L1616.5 1168.4L1613.5 1170.2L1609 1165.9L1603.2 1169.3L1599 1168.4L1592.8 1169.7L1589.1 1168.4L1587.7 1167.4Z" fill="#00ffff" stroke="#00ffff" stroke-width="7" stroke-linejoin="round"/>
<path d="M1644.7 1244.6L1645.1 1244L1647.6 1245.2L1650.9 1240.2L1653.8 1237.7L1655.5 1239.9L1655.5 1253.5L1653.8 1255.7L1650.9 1260.6L1647.6 1263.1L1645.1 1260.6L1644.7 1259.9Z" fill="#00ffff" stroke="#00ffff" stroke-width="7" stroke-linejoin="round"/>
<path d="M1835.9 1197.9L1839.5 1200.4L1842 1177.9L1843.2 1163L1846.1 1150.3L1849.5 1143L1856.3 1153.3L1858.2 1158L1862.7 1128.1L1866.9 1125.6L1870.6 1153L1873.1 1163L1876.8 1163.7L1880.6 1163L1888.1 1130.6L1892.2 1132.6L1896.1 1148L1900 1153L1902.4 1159.1L1907.5 1142.9L1910 1148L1912.7 1162.2L1917.4 1148L1922.9 1157.2L1924.9 1153L1928 1158.7L1929.9 1143L1934.9 1143L1938.3 1163.3L1938.3 1225.6L1934.9 1224.5L1929.9 1222L1928 1207.8L1924.9 1220.8L1922.9 1214.2L1917.4 1205.8L1912.7 1207.6L1910 1208.3L1907.5 1216L1902.4 1217L1900 1218.3L1896.1 1220.8L1892.2 1237L1888.1 1235.7L1880.6 1233.2L1876.8 1229.8L1873.1 1228.2L1870.6 1230.7L1866.9 1233.2L1862.7 1233.2L1858.2 1235.7L1856.3 1222.6L1849.5 1230.7L1846.1 1228.9L1843.2 1230.7L1842 1240.7L1839.5 1248.2L1835.9 1236.1Z" fill="#00ff00" stroke="#00ff00" stroke-width="7" stroke-linejoin="round"/>
<path d="M2309.8 1167.7L2311.2 1166.7L2313.7 1172.9L2315.6 1182.9L2318.6 1197.9L2321.1 1192.9L2323.6 1182.9L2326.6 1163L2329 1160.6L2329 1208.8L2326.6 1220.8L2323.6 1228.2L2321.1 1233.2L2318.6 1242L2315.6 1242L2313.7 1220.8L2311.2 1195.9L2309.8 1185.9Z" fill="#ff00ff" stroke="#ff00ff" stroke-width="7" stroke-linejoin="round"/>
<path d="M2328.7 1157.8L2333.7 1154.1L2336.1 1143L2338.8 1121L2343.1 1103.2L2346.5 1093.2L2350 1103.2L2353.5 1128.1L2358.9 1118.1L2363.5 1125.6L2369 1117.1L2373.5 1123.1L2379.7 1113.1L2383.4 1110.7L2390.9 1113.1L2394.6 1143L2398.4 1150.5L2404.2 1144.7L2408.3 1153L2414.3 1148.8L2418.3 1150.5L2422.1 1153L2424.5 1150.5L2428.3 1130.6L2434.5 1147.1L2438.3 1138.1L2444.5 1127.9L2448.2 1118.1L2454.4 1113.1L2454.6 1113.3L2454.6 1165.6L2454.4 1165.9L2448.2 1175.9L2444.5 1182.8L2438.3 1188.4L2434.5 1186.8L2428.3 1185.9L2424.5 1198.3L2422.1 1205.8L2418.3 1200.8L2414.3 1182.5L2408.3 1188.4L2404.2 1196.4L2398.4 1190.9L2394.6 1190.9L2390.9 1190.9L2383.4 1198.3L2379.7 1198.3L2373.5 1198.3L2369 1198.4L2363.5 1198.3L2358.9 1204.5L2353.5 1200.8L2350 1198.3L2346.5 1195.9L2343.1 1198.3L2338.8 1187.9L2336.1 1200.8L2333.7 1195.1L2328.7 1200.8Z" fill="#00ff00" stroke="#00ff00" stroke-width="7" stroke-linejoin="round"/>
<path d="M2452.8 1105.8L2454.4 1098.2L2458.1 1109.9L2460.7 1095.7L2463.4 1103.2L2468.7 1088.8L2470.6 1098.2L2473.9 1097.4L2477.6 1088.2L2481.1 1083.2L2484.5 1100.2L2484.5 1146.8L2481.1 1151L2477.6 1153.5L2473.9 1144.2L2470.6 1156L2468.7 1156L2463.4 1164.7L2460.7 1158.5L2458.1 1148.8L2454.4 1157.2L2452.8 1156.7Z" fill="#ff0000" stroke="#ff0000" stroke-width="7" stroke-linejoin="round"/>
<g fill="#ff0000"><circle cx="1569.6" cy="1082.2" r="4.1"/></g>
<g fill="#00ffff"><circle cx="1604.5" cy="1186.9" r="4.1"/><circle cx="1604.5" cy="1188.9" r="4.1"/></g>
<g fill="#00ff00"><circle cx="1866.2" cy="1081" r="4.1"/><circle cx="1866.7" cy="1087.2" r="4.1"/><circle cx="1866.2" cy="1094.7" r="4.1"/><circle cx="1865.7" cy="1102.2" r="4.1"/><circle cx="1865.2" cy="1109.6" r="4.1"/><circle cx="1865.2" cy="1114.6" r="4.1"/><circle cx="1454" cy="1128.3" r="4.1"/></g>
<g fill="#00ff00"><circle cx="1923.7" cy="1254.2" r="4.1"/><circle cx="2361" cy="1099.7" r="4.1"/><circle cx="2382.9" cy="1099.7" r="4.1"/></g>
<g fill="#ff0000"><circle cx="2462.7" cy="1173.2" r="4.1"/><circle cx="2466.2" cy="1193.1" r="4.1"/></g>
<g fill="none" stroke="#222" stroke-width="1.25"><ellipse cx="1547.2" cy="1164.5" rx="6.8" ry="9.6"/><ellipse cx="1622" cy="1184.4" rx="6.8" ry="9.6"/><ellipse cx="1677.5" cy="1198.9" rx="6.8" ry="9.6"/><ellipse cx="1753.5" cy="1206.3" rx="6.8" ry="9.6"/><ellipse cx="1835.3" cy="1174.9" rx="6.8" ry="9.6"/><ellipse cx="1898.1" cy="1182.7" rx="6.8" ry="9.6"/><ellipse cx="1934.9" cy="1191.9" rx="6.8" ry="9.6"/><ellipse cx="1983" cy="1160" rx="6.8" ry="9.6"/><ellipse cx="2027.6" cy="1152.8" rx="6.8" ry="9.6"/><ellipse cx="2054" cy="1133.3" rx="6.8" ry="9.6"/><ellipse cx="2111.3" cy="1140.3" rx="6.8" ry="9.6"/><ellipse cx="2159.2" cy="1189.4" rx="6.8" ry="9.6"/><ellipse cx="2390.4" cy="1167.5" rx="6.8" ry="9.6"/><ellipse cx="2481.1" cy="1150.3" rx="6.8" ry="9.6"/></g>
<text transform="translate(1330,1115.6) scale(0.66,1)" text-anchor="end" font-size="47">4</text>
<text transform="translate(1330,1235.2) scale(0.66,1)" text-anchor="end" font-size="47">2</text>
<text transform="translate(1330,1354.7) scale(0.66,1)" text-anchor="end" font-size="47">0</text>
<text x="1359" y="1391.7" text-anchor="middle" font-size="39.5">4</text>
<text x="1486.5" y="1391.7" text-anchor="middle" font-size="39.5">7</text>
<text x="1614.5" y="1391.7" text-anchor="middle" font-size="39.5">10</text>
<text x="1729" y="1391.7" text-anchor="middle" font-size="39.5">1</text>
<text x="1856" y="1391.7" text-anchor="middle" font-size="39.5">4</text>
<text x="1981.5" y="1391.7" text-anchor="middle" font-size="39.5">7</text>
<text x="2111.8" y="1391.7" text-anchor="middle" font-size="39.5">10</text>
<text x="2236.5" y="1391.7" text-anchor="middle" font-size="39.5">1</text>
<text x="2351.5" y="1391.7" text-anchor="middle" font-size="39.5">4</text>
<text x="2468" y="1391.7" text-anchor="middle" font-size="39.5">7</text>
<text x="1416.2" y="1441.5" font-size="40" textLength="92.5" lengthAdjust="spacingAndGlyphs">2017</text>
<text x="1913.8" y="1441.5" font-size="40" textLength="92.5" lengthAdjust="spacingAndGlyphs">2018</text>
<text x="2398.2" y="1441.5" font-size="40" textLength="92.5" lengthAdjust="spacingAndGlyphs">2019</text>
<text class="se" x="1904" y="989.8" text-anchor="middle" font-size="45">Ω</text>
<text transform="translate(1945.5,1015.6) scale(0.8,1)" text-anchor="middle" font-size="33">arag</text>
<text x="1263" y="1010.6" font-size="40" font-weight="bold">F</text>
</g>
<g class="lg" font-size="33">
<rect x="317" y="1470" width="1925.6" height="109.2" fill="#fff" stroke="#111" stroke-width="2.6"/>
<circle cx="356" cy="1499.3" r="11.8" fill="#ff00ff"/>
<text x="378" y="1510.7" textLength="310.3" lengthAdjust="spacingAndGlyphs">:Winter (Jan-Mar)</text>
<circle cx="731.9" cy="1499.3" r="11.8" fill="#00ff00"/>
<text x="752.7" y="1510.7" textLength="301" lengthAdjust="spacingAndGlyphs">:Spring (Apr-Jun)</text>
<circle cx="1098.2" cy="1499.3" r="11.8" fill="#ff0000"/>
<text x="1119" y="1510.7" textLength="337.4" lengthAdjust="spacingAndGlyphs">:Summer (Jul–Sep)</text>
<circle cx="1500.4" cy="1499.3" r="11.8" fill="#00ffff"/>
<text x="1520.8" y="1510.7" textLength="338.4" lengthAdjust="spacingAndGlyphs">:Autumn (Oct–Dec)</text>
<circle cx="357.3" cy="1542" r="13.8" fill="none" stroke="#222" stroke-width="1.5"/>
<text x="378" y="1553.9" textLength="334.4" lengthAdjust="spacingAndGlyphs">:water sample data</text>
<path d="M743.5 1542h23M755 1530.5v23" stroke="#111" stroke-width="2.2" fill="none"/>
<text x="771.5" y="1553.9" textLength="684.9" lengthAdjust="spacingAndGlyphs">:<tspan font-style="italic">in situ</tspan> data (0m) (Nakata <tspan font-style="italic">et al.</tspan>, 2001)</text>
<path d="M1500.4 1529.5L1503.6 1538.6L1513.2 1538.8L1505.5 1544.7L1508.3 1553.9L1500.4 1548.4L1492.5 1553.9L1495.3 1544.7L1487.6 1538.8L1497.2 1538.6Z" fill="none" stroke="#222" stroke-width="1.5"/>
<text x="1520.8" y="1553.9" textLength="688.5" lengthAdjust="spacingAndGlyphs">:<tspan font-style="italic">in situ</tspan> data (5m) (Nakata <tspan font-style="italic">et al.</tspan>, 2001)</text>
</g>
</svg></body></html>
